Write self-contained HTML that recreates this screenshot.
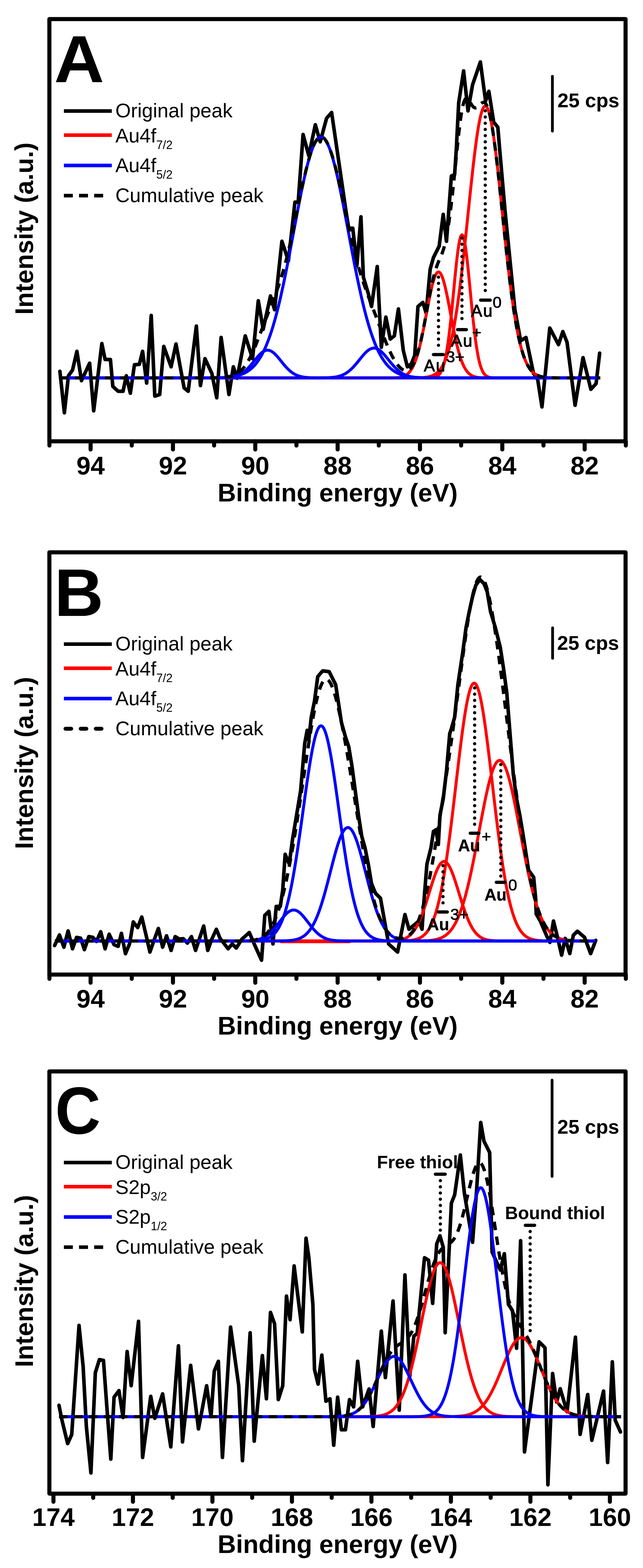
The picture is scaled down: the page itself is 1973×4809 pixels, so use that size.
<!DOCTYPE html>
<html><head><meta charset="utf-8"><style>
html,body{margin:0;padding:0;background:#fff;overflow:hidden;}
svg{display:block;}
</style></head><body>
<svg width="1973" height="4809" viewBox="0 0 1973 4809" font-family='"Liberation Sans", Arial, sans-serif'>
<rect width="100%" height="100%" fill="#fff"/>
<rect x="151.5" y="58.5" width="1768" height="1295" fill="none" stroke="#000" stroke-width="12.5" stroke-linejoin="round"/>
<line x1="278" y1="1353.5" x2="278" y2="1378.5" stroke="#000" stroke-width="12.5" stroke-linecap="round"/>
<line x1="530.7" y1="1353.5" x2="530.7" y2="1378.5" stroke="#000" stroke-width="12.5" stroke-linecap="round"/>
<line x1="783.3" y1="1353.5" x2="783.3" y2="1378.5" stroke="#000" stroke-width="12.5" stroke-linecap="round"/>
<line x1="1036" y1="1353.5" x2="1036" y2="1378.5" stroke="#000" stroke-width="12.5" stroke-linecap="round"/>
<line x1="1288.6" y1="1353.5" x2="1288.6" y2="1378.5" stroke="#000" stroke-width="12.5" stroke-linecap="round"/>
<line x1="1541.3" y1="1353.5" x2="1541.3" y2="1378.5" stroke="#000" stroke-width="12.5" stroke-linecap="round"/>
<line x1="1794" y1="1353.5" x2="1794" y2="1378.5" stroke="#000" stroke-width="12.5" stroke-linecap="round"/>
<line x1="151.7" y1="1353.5" x2="151.7" y2="1366.5" stroke="#000" stroke-width="12.5" stroke-linecap="round"/>
<line x1="404.3" y1="1353.5" x2="404.3" y2="1366.5" stroke="#000" stroke-width="12.5" stroke-linecap="round"/>
<line x1="657" y1="1353.5" x2="657" y2="1366.5" stroke="#000" stroke-width="12.5" stroke-linecap="round"/>
<line x1="909.6" y1="1353.5" x2="909.6" y2="1366.5" stroke="#000" stroke-width="12.5" stroke-linecap="round"/>
<line x1="1162.3" y1="1353.5" x2="1162.3" y2="1366.5" stroke="#000" stroke-width="12.5" stroke-linecap="round"/>
<line x1="1415" y1="1353.5" x2="1415" y2="1366.5" stroke="#000" stroke-width="12.5" stroke-linecap="round"/>
<line x1="1667.6" y1="1353.5" x2="1667.6" y2="1366.5" stroke="#000" stroke-width="12.5" stroke-linecap="round"/>
<line x1="1920.3" y1="1353.5" x2="1920.3" y2="1366.5" stroke="#000" stroke-width="12.5" stroke-linecap="round"/>
<text x="278" y="1455" text-anchor="middle" font-size="78" font-weight="bold">94</text>
<text x="530.7" y="1455" text-anchor="middle" font-size="78" font-weight="bold">92</text>
<text x="783.3" y="1455" text-anchor="middle" font-size="78" font-weight="bold">90</text>
<text x="1036" y="1455" text-anchor="middle" font-size="78" font-weight="bold">88</text>
<text x="1288.6" y="1455" text-anchor="middle" font-size="78" font-weight="bold">86</text>
<text x="1541.3" y="1455" text-anchor="middle" font-size="78" font-weight="bold">84</text>
<text x="1794" y="1455" text-anchor="middle" font-size="78" font-weight="bold">82</text>
<text x="1036" y="1538" text-anchor="middle" font-size="78" font-weight="bold">Binding energy (eV)</text>
<text transform="translate(101,701) rotate(-90)" text-anchor="middle" font-size="78" font-weight="bold">Intensity (a.u.)</text>
<text transform="translate(166,252) scale(1.045,1)" font-size="204" font-weight="bold">A</text>
<polyline points="183.8,1138.8 197.5,1266 210,1152.5 222.5,1135 236,1077.5 250,1167.5 275,1113.8 287.5,1260 312.5,1053.8 322.5,1102.5 338.8,1102.5 346.2,1185 362.5,1200 377.5,1200 387.5,1152.5 400,1206 412.5,1118.8 427.5,1117.5 437.5,1077.5 450,1175 464,967.5 475,1215 490,1210 502.5,1062.5 525,1125 540,1055 565,1190 577.5,1200 602.5,1000 615,1182.5 629,1100 650,1145 665,1220 678.5,1035 702.5,1210 716,1125 727.5,1160 752.5,1030 775,1100 792.5,922.5 807.5,1010 830,907.5 842.5,950 865,740 885,800 905,620 915,620 930,412.5 947.5,477.5 967.5,382.5 982.5,435 1002,363 1017.5,345 1062,650 1070,700 1082.5,700 1095,815 1107.5,665 1115,850 1130,900 1140,940 1157.5,817.5 1170,1065 1184,972.5 1197.5,1040 1210,1030 1222.5,947.5 1237.5,1075 1250,1125 1262.5,1115 1272.5,1090 1282.5,940 1297.5,927.5 1307.5,960 1320,825 1330,790 1347.5,755 1360,657.5 1370,740 1385,540 1395,535 1400,460 1407.5,315 1422.5,217.5 1436,340 1450,260 1474,190 1490,310 1500,280 1515,375 1527.5,390 1532.5,450 1550,650 1565,800 1580,950 1597.5,1045 1614,1035 1637,1145 1650,1165 1663,1248 1687,1006 1713.7,1057 1727,1017 1740,1050 1764.6,1243 1789,1097 1813,1194 1829,1176.6 1840,1083" fill="none" stroke="#000" stroke-width="11" stroke-linejoin="round" stroke-linecap="round"/>

<polyline points="184,1159 187,1159 190,1159 193,1159 196,1159 199,1159 202,1159 205,1159 208,1159 211,1159 214,1159 217,1159 220,1159 223,1159 226,1159 229,1159 232,1159 235,1159 238,1159 241,1159 244,1159 247,1159 250,1159 253,1159 256,1159 259,1159 262,1159 265,1159 268,1159 271,1159 274,1159 277,1159 280,1159 283,1159 286,1159 289,1159 292,1159 295,1159 298,1159 301,1159 304,1159 307,1159 310,1159 313,1159 316,1159 319,1159 322,1159 325,1159 328,1159 331,1159 334,1159 337,1159 340,1159 343,1159 346,1159 349,1159 352,1159 355,1159 358,1159 361,1159 364,1159 367,1159 370,1159 373,1159 376,1159 379,1159 382,1159 385,1159 388,1159 391,1159 394,1159 397,1159 400,1159 403,1159 406,1159 409,1159 412,1159 415,1159 418,1159 421,1159 424,1159 427,1159 430,1159 433,1159 436,1159 439,1159 442,1159 445,1159 448,1159 451,1159 454,1159 457,1159 460,1159 463,1159 466,1159 469,1159 472,1159 475,1159 478,1159 481,1159 484,1159 487,1159 490,1159 493,1159 496,1159 499,1159 502,1159 505,1159 508,1159 511,1159 514,1159 517,1159 520,1159 523,1159 526,1159 529,1159 532,1159 535,1159 538,1159 541,1159 544,1159 547,1159 550,1159 553,1159 556,1159 559,1159 562,1159 565,1159 568,1159 571,1159 574,1159 577,1159 580,1159 583,1159 586,1159 589,1159 592,1159 595,1159 598,1159 601,1159 604,1159 607,1159 610,1159 613,1159 616,1159 619,1159 622,1159 625,1159 628,1159 631,1159 634,1159 637,1159 640,1159 643,1159 646,1159 649,1159 652,1159 655,1159 658,1159 661,1159 664,1159 667,1159 670,1159 673,1159 676,1159 679,1159 682,1159 685,1159 688,1159 691,1159 694,1159 697,1159 700,1159 703,1159 706,1159 709,1159 712,1159 715,1159 718,1159 721,1159 724,1159 727,1159 730,1159 733,1159 736,1159 739,1159 742,1159 745,1159 748,1159 751,1159 754,1159 757,1159 760,1159 763,1159 766,1159 769,1159 772,1159 775,1159 778,1159 781,1159 784,1159 787,1159 790,1159 793,1159 796,1159 799,1159 802,1159 805,1159 808,1159 811,1159 814,1159 817,1159 820,1159 823,1159 826,1159 829,1159 832,1159 835,1159 838,1159 841,1159 844,1159 847,1159 850,1159 853,1159 856,1159 859,1159 862,1159 865,1159 868,1159 871,1159 874,1159 877,1159 880,1159 883,1159 886,1159 889,1159 892,1159 895,1159 898,1159 901,1159 904,1159 907,1159 910,1159 913,1159 916,1159 919,1159 922,1159 925,1159 928,1159 931,1159 934,1159 937,1159 940,1159 943,1159 946,1159 949,1159 952,1159 955,1159 958,1159 961,1159 964,1159 967,1159 970,1159 973,1159 976,1159 979,1159 982,1159 985,1159 988,1159 991,1159 994,1159 997,1159 1000,1159 1003,1159 1006,1159 1009,1159 1012,1159 1015,1159 1018,1159 1021,1159 1024,1159 1027,1159 1030,1159 1033,1159 1036,1159 1039,1159 1042,1159 1045,1159 1048,1159 1051,1159 1054,1159 1057,1159 1060,1159 1063,1159 1066,1159 1069,1159 1072,1159 1075,1159 1078,1159 1081,1159 1084,1159 1087,1159 1090,1159 1093,1159 1096,1159 1099,1159 1102,1159 1105,1159 1108,1159 1111,1159 1114,1159 1117,1159 1120,1159 1123,1159 1126,1159 1129,1159 1132,1159 1135,1159 1138,1159 1141,1159 1144,1159 1147,1159 1150,1159 1153,1159 1156,1159 1159,1159 1162,1159 1165,1159 1168,1159 1171,1159 1174,1159 1177,1159 1180,1159 1183,1159 1186,1159 1189,1159 1192,1159 1195,1159 1198,1159 1201,1159 1204,1159 1207,1159 1210,1159 1213,1159 1216,1159 1219,1159 1222,1159 1225,1159 1228,1159 1231,1159 1234,1159 1237,1159 1240,1159 1243,1159 1246,1159 1249,1159 1252,1159 1255,1159 1258,1158.9 1261,1158.9 1264,1158.9 1267,1158.9 1270,1158.9 1273,1158.8 1276,1158.8 1279,1158.7 1282,1158.6 1285,1158.6 1288,1158.5 1291,1158.3 1294,1158.2 1297,1158 1300,1157.7 1303,1157.4 1306,1157.1 1309,1156.7 1312,1156.2 1315,1155.6 1318,1154.9 1321,1154 1324,1153 1327,1151.9 1330,1150.5 1333,1148.9 1336,1147.1 1339,1144.9 1342,1142.5 1345,1139.6 1348,1136.4 1351,1132.6 1354,1128.4 1357,1123.6 1360,1118.2 1363,1112.2 1366,1105.4 1369,1097.8 1372,1089.4 1375,1080.1 1378,1069.8 1381,1058.5 1384,1046.1 1387,1032.7 1390,1018.1 1393,1002.3 1396,985.3 1399,967.1 1402,947.7 1405,927.1 1408,905.3 1411,882.4 1414,858.4 1417,833.3 1420,807.4 1423,780.6 1426,753 1429,724.9 1432,696.4 1435,667.6 1438,638.7 1441,609.9 1444,581.4 1447,553.4 1450,526.1 1453,499.7 1456,474.5 1459,450.6 1462,428.3 1465,407.7 1468,389.1 1471,372.6 1474,358.4 1477,346.5 1480,337.2 1483,330.4 1486,326.4 1489,325 1492,326.4 1495,330.4 1498,337.2 1501,346.5 1504,358.4 1507,372.6 1510,389.1 1513,407.7 1516,428.3 1519,450.6 1522,474.5 1525,499.7 1528,526.1 1531,553.4 1534,581.4 1537,609.9 1540,638.7 1543,667.6 1546,696.4 1549,724.9 1552,753 1555,780.6 1558,807.4 1561,833.3 1564,858.4 1567,882.4 1570,905.3 1573,927.1 1576,947.7 1579,967.1 1582,985.3 1585,1002.3 1588,1018.1 1591,1032.7 1594,1046.1 1597,1058.5 1600,1069.8 1603,1080.1 1606,1089.4 1609,1097.8 1612,1105.4 1615,1112.2 1618,1118.2 1621,1123.6 1624,1128.4 1627,1132.6 1630,1136.4 1633,1139.6 1636,1142.5 1639,1144.9 1642,1147.1 1645,1148.9 1648,1150.5 1651,1151.9 1654,1153 1657,1154 1660,1154.9 1663,1155.6 1666,1156.2 1669,1156.7 1672,1157.1 1675,1157.4 1678,1157.7 1681,1158 1684,1158.2 1687,1158.3 1690,1158.5 1693,1158.6 1696,1158.6 1699,1158.7 1702,1158.8 1705,1158.8 1708,1158.9 1711,1158.9 1714,1158.9 1717,1158.9 1720,1158.9 1723,1159 1726,1159 1729,1159 1732,1159 1735,1159 1738,1159 1741,1159 1744,1159 1747,1159 1750,1159 1753,1159 1756,1159 1759,1159 1762,1159 1765,1159 1768,1159 1771,1159 1774,1159 1777,1159 1780,1159 1783,1159 1786,1159 1789,1159 1792,1159 1795,1159 1798,1159 1801,1159 1804,1159 1807,1159 1810,1159 1813,1159 1816,1159 1819,1159 1822,1159 1825,1159 1828,1159 1831,1159 1834,1159 1837,1159 1840,1159" fill="none" stroke="#f00" stroke-width="9" stroke-linejoin="round"/>
<polyline points="184,1159 187,1159 190,1159 193,1159 196,1159 199,1159 202,1159 205,1159 208,1159 211,1159 214,1159 217,1159 220,1159 223,1159 226,1159 229,1159 232,1159 235,1159 238,1159 241,1159 244,1159 247,1159 250,1159 253,1159 256,1159 259,1159 262,1159 265,1159 268,1159 271,1159 274,1159 277,1159 280,1159 283,1159 286,1159 289,1159 292,1159 295,1159 298,1159 301,1159 304,1159 307,1159 310,1159 313,1159 316,1159 319,1159 322,1159 325,1159 328,1159 331,1159 334,1159 337,1159 340,1159 343,1159 346,1159 349,1159 352,1159 355,1159 358,1159 361,1159 364,1159 367,1159 370,1159 373,1159 376,1159 379,1159 382,1159 385,1159 388,1159 391,1159 394,1159 397,1159 400,1159 403,1159 406,1159 409,1159 412,1159 415,1159 418,1159 421,1159 424,1159 427,1159 430,1159 433,1159 436,1159 439,1159 442,1159 445,1159 448,1159 451,1159 454,1159 457,1159 460,1159 463,1159 466,1159 469,1159 472,1159 475,1159 478,1159 481,1159 484,1159 487,1159 490,1159 493,1159 496,1159 499,1159 502,1159 505,1159 508,1159 511,1159 514,1159 517,1159 520,1159 523,1159 526,1159 529,1159 532,1159 535,1159 538,1159 541,1159 544,1159 547,1159 550,1159 553,1159 556,1159 559,1159 562,1159 565,1159 568,1159 571,1159 574,1159 577,1159 580,1159 583,1159 586,1159 589,1159 592,1159 595,1159 598,1159 601,1159 604,1159 607,1159 610,1159 613,1159 616,1159 619,1159 622,1159 625,1159 628,1159 631,1159 634,1159 637,1159 640,1159 643,1159 646,1159 649,1159 652,1159 655,1159 658,1159 661,1159 664,1159 667,1159 670,1159 673,1159 676,1159 679,1159 682,1159 685,1159 688,1159 691,1159 694,1159 697,1159 700,1159 703,1159 706,1159 709,1159 712,1159 715,1159 718,1159 721,1159 724,1159 727,1159 730,1159 733,1159 736,1159 739,1159 742,1159 745,1159 748,1159 751,1159 754,1159 757,1159 760,1159 763,1159 766,1159 769,1159 772,1159 775,1159 778,1159 781,1159 784,1159 787,1159 790,1159 793,1159 796,1159 799,1159 802,1159 805,1159 808,1159 811,1159 814,1159 817,1159 820,1159 823,1159 826,1159 829,1159 832,1159 835,1159 838,1159 841,1159 844,1159 847,1159 850,1159 853,1159 856,1159 859,1159 862,1159 865,1159 868,1159 871,1159 874,1159 877,1159 880,1159 883,1159 886,1159 889,1159 892,1159 895,1159 898,1159 901,1159 904,1159 907,1159 910,1159 913,1159 916,1159 919,1159 922,1159 925,1159 928,1159 931,1159 934,1159 937,1159 940,1159 943,1159 946,1159 949,1159 952,1159 955,1159 958,1159 961,1159 964,1159 967,1159 970,1159 973,1159 976,1159 979,1159 982,1159 985,1159 988,1159 991,1159 994,1159 997,1159 1000,1159 1003,1159 1006,1159 1009,1159 1012,1159 1015,1159 1018,1159 1021,1159 1024,1159 1027,1159 1030,1159 1033,1159 1036,1159 1039,1159 1042,1159 1045,1159 1048,1159 1051,1159 1054,1159 1057,1159 1060,1159 1063,1159 1066,1159 1069,1159 1072,1159 1075,1159 1078,1159 1081,1159 1084,1159 1087,1159 1090,1159 1093,1159 1096,1159 1099,1159 1102,1159 1105,1159 1108,1159 1111,1159 1114,1159 1117,1159 1120,1159 1123,1159 1126,1159 1129,1159 1132,1159 1135,1159 1138,1159 1141,1159 1144,1159 1147,1159 1150,1159 1153,1159 1156,1159 1159,1159 1162,1159 1165,1159 1168,1159 1171,1159 1174,1159 1177,1159 1180,1159 1183,1159 1186,1159 1189,1159 1192,1159 1195,1159 1198,1159 1201,1159 1204,1159 1207,1159 1210,1159 1213,1159 1216,1159 1219,1159 1222,1159 1225,1159 1228,1159 1231,1159 1234,1159 1237,1159 1240,1159 1243,1159 1246,1159 1249,1159 1252,1159 1255,1159 1258,1159 1261,1159 1264,1159 1267,1159 1270,1159 1273,1159 1276,1159 1279,1159 1282,1159 1285,1159 1288,1159 1291,1159 1294,1159 1297,1159 1300,1159 1303,1159 1306,1159 1309,1158.9 1312,1158.9 1315,1158.9 1318,1158.8 1321,1158.7 1324,1158.5 1327,1158.2 1330,1157.8 1333,1157.2 1336,1156.3 1339,1155.2 1342,1153.5 1345,1151.3 1348,1148.3 1351,1144.4 1354,1139.2 1357,1132.7 1360,1124.5 1363,1114.3 1366,1101.9 1369,1087.1 1372,1069.6 1375,1049.5 1378,1026.7 1381,1001.4 1384,973.8 1387,944.3 1390,913.6 1393,882.3 1396,851.3 1399,821.6 1402,794 1405,769.7 1408,749.4 1411,734 1414,724.1 1417,720.1 1420,722.1 1423,730.1 1426,743.7 1429,762.4 1432,785.5 1435,812.1 1438,841.2 1441,871.9 1444,903.2 1447,934.2 1450,964.1 1453,992.4 1456,1018.6 1459,1042.2 1462,1063.2 1465,1081.6 1468,1097.2 1471,1110.4 1474,1121.3 1477,1130.1 1480,1137.2 1483,1142.8 1486,1147.1 1489,1150.4 1492,1152.8 1495,1154.7 1498,1156 1501,1156.9 1504,1157.6 1507,1158.1 1510,1158.4 1513,1158.6 1516,1158.7 1519,1158.8 1522,1158.9 1525,1158.9 1528,1159 1531,1159 1534,1159 1537,1159 1540,1159 1543,1159 1546,1159 1549,1159 1552,1159 1555,1159 1558,1159 1561,1159 1564,1159 1567,1159 1570,1159 1573,1159 1576,1159 1579,1159 1582,1159 1585,1159 1588,1159 1591,1159 1594,1159 1597,1159 1600,1159 1603,1159 1606,1159 1609,1159 1612,1159 1615,1159 1618,1159 1621,1159 1624,1159 1627,1159 1630,1159 1633,1159 1636,1159 1639,1159 1642,1159 1645,1159 1648,1159 1651,1159 1654,1159 1657,1159 1660,1159 1663,1159 1666,1159 1669,1159 1672,1159 1675,1159 1678,1159 1681,1159 1684,1159 1687,1159 1690,1159 1693,1159 1696,1159 1699,1159 1702,1159 1705,1159 1708,1159 1711,1159 1714,1159 1717,1159 1720,1159 1723,1159 1726,1159 1729,1159 1732,1159 1735,1159 1738,1159 1741,1159 1744,1159 1747,1159 1750,1159 1753,1159 1756,1159 1759,1159 1762,1159 1765,1159 1768,1159 1771,1159 1774,1159 1777,1159 1780,1159 1783,1159 1786,1159 1789,1159 1792,1159 1795,1159 1798,1159 1801,1159 1804,1159 1807,1159 1810,1159 1813,1159 1816,1159 1819,1159 1822,1159 1825,1159 1828,1159 1831,1159 1834,1159 1837,1159 1840,1159" fill="none" stroke="#f00" stroke-width="9" stroke-linejoin="round"/>
<polyline points="184,1159 187,1159 190,1159 193,1159 196,1159 199,1159 202,1159 205,1159 208,1159 211,1159 214,1159 217,1159 220,1159 223,1159 226,1159 229,1159 232,1159 235,1159 238,1159 241,1159 244,1159 247,1159 250,1159 253,1159 256,1159 259,1159 262,1159 265,1159 268,1159 271,1159 274,1159 277,1159 280,1159 283,1159 286,1159 289,1159 292,1159 295,1159 298,1159 301,1159 304,1159 307,1159 310,1159 313,1159 316,1159 319,1159 322,1159 325,1159 328,1159 331,1159 334,1159 337,1159 340,1159 343,1159 346,1159 349,1159 352,1159 355,1159 358,1159 361,1159 364,1159 367,1159 370,1159 373,1159 376,1159 379,1159 382,1159 385,1159 388,1159 391,1159 394,1159 397,1159 400,1159 403,1159 406,1159 409,1159 412,1159 415,1159 418,1159 421,1159 424,1159 427,1159 430,1159 433,1159 436,1159 439,1159 442,1159 445,1159 448,1159 451,1159 454,1159 457,1159 460,1159 463,1159 466,1159 469,1159 472,1159 475,1159 478,1159 481,1159 484,1159 487,1159 490,1159 493,1159 496,1159 499,1159 502,1159 505,1159 508,1159 511,1159 514,1159 517,1159 520,1159 523,1159 526,1159 529,1159 532,1159 535,1159 538,1159 541,1159 544,1159 547,1159 550,1159 553,1159 556,1159 559,1159 562,1159 565,1159 568,1159 571,1159 574,1159 577,1159 580,1159 583,1159 586,1159 589,1159 592,1159 595,1159 598,1159 601,1159 604,1159 607,1159 610,1159 613,1159 616,1159 619,1159 622,1159 625,1159 628,1159 631,1159 634,1159 637,1159 640,1159 643,1159 646,1159 649,1159 652,1159 655,1159 658,1159 661,1159 664,1159 667,1159 670,1159 673,1159 676,1159 679,1159 682,1159 685,1159 688,1159 691,1159 694,1159 697,1159 700,1159 703,1159 706,1159 709,1159 712,1159 715,1159 718,1159 721,1159 724,1159 727,1159 730,1159 733,1159 736,1159 739,1159 742,1159 745,1159 748,1159 751,1159 754,1159 757,1159 760,1159 763,1159 766,1159 769,1159 772,1159 775,1159 778,1159 781,1159 784,1159 787,1159 790,1159 793,1159 796,1159 799,1159 802,1159 805,1159 808,1159 811,1159 814,1159 817,1159 820,1159 823,1159 826,1159 829,1159 832,1159 835,1159 838,1159 841,1159 844,1159 847,1159 850,1159 853,1159 856,1159 859,1159 862,1159 865,1159 868,1159 871,1159 874,1159 877,1159 880,1159 883,1159 886,1159 889,1159 892,1159 895,1159 898,1159 901,1159 904,1159 907,1159 910,1159 913,1159 916,1159 919,1159 922,1159 925,1159 928,1159 931,1159 934,1159 937,1159 940,1159 943,1159 946,1159 949,1159 952,1159 955,1159 958,1159 961,1159 964,1159 967,1159 970,1159 973,1159 976,1159 979,1159 982,1159 985,1159 988,1159 991,1159 994,1159 997,1159 1000,1159 1003,1159 1006,1159 1009,1159 1012,1159 1015,1159 1018,1159 1021,1159 1024,1159 1027,1159 1030,1159 1033,1159 1036,1159 1039,1159 1042,1159 1045,1159 1048,1159 1051,1159 1054,1159 1057,1159 1060,1159 1063,1159 1066,1159 1069,1159 1072,1159 1075,1159 1078,1159 1081,1159 1084,1159 1087,1159 1090,1159 1093,1159 1096,1159 1099,1159 1102,1159 1105,1159 1108,1159 1111,1159 1114,1159 1117,1159 1120,1159 1123,1159 1126,1159 1129,1159 1132,1159 1135,1159 1138,1159 1141,1159 1144,1159 1147,1159 1150,1159 1153,1159 1156,1159 1159,1159 1162,1159 1165,1159 1168,1159 1171,1159 1174,1159 1177,1159 1180,1159 1183,1159 1186,1159 1189,1159 1192,1158.9 1195,1158.9 1198,1158.9 1201,1158.8 1204,1158.8 1207,1158.7 1210,1158.6 1213,1158.5 1216,1158.3 1219,1158.1 1222,1157.8 1225,1157.4 1228,1156.9 1231,1156.3 1234,1155.5 1237,1154.6 1240,1153.4 1243,1152 1246,1150.3 1249,1148.2 1252,1145.7 1255,1142.7 1258,1139.2 1261,1135 1264,1130.3 1267,1124.8 1270,1118.5 1273,1111.3 1276,1103.3 1279,1094.4 1282,1084.5 1285,1073.6 1288,1061.8 1291,1049.2 1294,1035.6 1297,1021.4 1300,1006.4 1303,991 1306,975.2 1309,959.2 1312,943.3 1315,927.6 1318,912.4 1321,898 1324,884.5 1327,872.2 1330,861.3 1333,852 1336,844.5 1339,839 1342,835.5 1345,834 1348,834.7 1351,837.6 1354,842.5 1357,849.3 1360,858 1363,868.4 1366,880.2 1369,893.4 1372,907.5 1375,922.5 1378,938 1381,953.9 1384,969.9 1387,985.7 1390,1001.3 1393,1016.4 1396,1031 1399,1044.7 1402,1057.7 1405,1069.8 1408,1081 1411,1091.2 1414,1100.4 1417,1108.8 1420,1116.2 1423,1122.8 1426,1128.5 1429,1133.5 1432,1137.9 1435,1141.6 1438,1144.7 1441,1147.4 1444,1149.6 1447,1151.5 1450,1153 1453,1154.2 1456,1155.2 1459,1156.1 1462,1156.7 1465,1157.2 1468,1157.6 1471,1158 1474,1158.2 1477,1158.4 1480,1158.6 1483,1158.7 1486,1158.8 1489,1158.8 1492,1158.9 1495,1158.9 1498,1158.9 1501,1159 1504,1159 1507,1159 1510,1159 1513,1159 1516,1159 1519,1159 1522,1159 1525,1159 1528,1159 1531,1159 1534,1159 1537,1159 1540,1159 1543,1159 1546,1159 1549,1159 1552,1159 1555,1159 1558,1159 1561,1159 1564,1159 1567,1159 1570,1159 1573,1159 1576,1159 1579,1159 1582,1159 1585,1159 1588,1159 1591,1159 1594,1159 1597,1159 1600,1159 1603,1159 1606,1159 1609,1159 1612,1159 1615,1159 1618,1159 1621,1159 1624,1159 1627,1159 1630,1159 1633,1159 1636,1159 1639,1159 1642,1159 1645,1159 1648,1159 1651,1159 1654,1159 1657,1159 1660,1159 1663,1159 1666,1159 1669,1159 1672,1159 1675,1159 1678,1159 1681,1159 1684,1159 1687,1159 1690,1159 1693,1159 1696,1159 1699,1159 1702,1159 1705,1159 1708,1159 1711,1159 1714,1159 1717,1159 1720,1159 1723,1159 1726,1159 1729,1159 1732,1159 1735,1159 1738,1159 1741,1159 1744,1159 1747,1159 1750,1159 1753,1159 1756,1159 1759,1159 1762,1159 1765,1159 1768,1159 1771,1159 1774,1159 1777,1159 1780,1159 1783,1159 1786,1159 1789,1159 1792,1159 1795,1159 1798,1159 1801,1159 1804,1159 1807,1159 1810,1159 1813,1159 1816,1159 1819,1159 1822,1159 1825,1159 1828,1159 1831,1159 1834,1159 1837,1159 1840,1159" fill="none" stroke="#f00" stroke-width="9" stroke-linejoin="round"/>
<polyline points="184,1159 187,1159 190,1159 193,1159 196,1159 199,1159 202,1159 205,1159 208,1159 211,1159 214,1159 217,1159 220,1159 223,1159 226,1159 229,1159 232,1159 235,1159 238,1159 241,1159 244,1159 247,1159 250,1159 253,1159 256,1159 259,1159 262,1159 265,1159 268,1159 271,1159 274,1159 277,1159 280,1159 283,1159 286,1159 289,1159 292,1159 295,1159 298,1159 301,1159 304,1159 307,1159 310,1159 313,1159 316,1159 319,1159 322,1159 325,1159 328,1159 331,1159 334,1159 337,1159 340,1159 343,1159 346,1159 349,1159 352,1159 355,1159 358,1159 361,1159 364,1159 367,1159 370,1159 373,1159 376,1159 379,1159 382,1159 385,1159 388,1159 391,1159 394,1159 397,1159 400,1159 403,1159 406,1159 409,1159 412,1159 415,1159 418,1159 421,1159 424,1159 427,1159 430,1159 433,1159 436,1159 439,1159 442,1159 445,1159 448,1159 451,1159 454,1159 457,1159 460,1159 463,1159 466,1159 469,1159 472,1159 475,1159 478,1159 481,1159 484,1159 487,1159 490,1159 493,1159 496,1159 499,1159 502,1159 505,1159 508,1159 511,1159 514,1159 517,1159 520,1159 523,1159 526,1159 529,1159 532,1159 535,1159 538,1159 541,1159 544,1159 547,1159 550,1159 553,1159 556,1159 559,1159 562,1159 565,1159 568,1159 571,1159 574,1159 577,1159 580,1159 583,1159 586,1159 589,1159 592,1159 595,1159 598,1159 601,1159 604,1159 607,1159 610,1159 613,1159 616,1159 619,1158.9 622,1158.9 625,1158.9 628,1158.9 631,1158.9 634,1158.9 637,1158.9 640,1158.8 643,1158.8 646,1158.8 649,1158.8 652,1158.7 655,1158.7 658,1158.6 661,1158.6 664,1158.5 667,1158.4 670,1158.4 673,1158.3 676,1158.2 679,1158 682,1157.9 685,1157.8 688,1157.6 691,1157.4 694,1157.2 697,1157 700,1156.7 703,1156.4 706,1156.1 709,1155.7 712,1155.3 715,1154.8 718,1154.3 721,1153.8 724,1153.1 727,1152.5 730,1151.7 733,1150.9 736,1150 739,1149 742,1147.9 745,1146.6 748,1145.3 751,1143.9 754,1142.3 757,1140.6 760,1138.7 763,1136.7 766,1134.5 769,1132.1 772,1129.5 775,1126.8 778,1123.8 781,1120.6 784,1117.1 787,1113.4 790,1109.4 793,1105.1 796,1100.6 799,1095.7 802,1090.5 805,1085 808,1079.2 811,1073 814,1066.4 817,1059.5 820,1052.1 823,1044.4 826,1036.3 829,1027.8 832,1018.9 835,1009.5 838,999.8 841,989.6 844,979 847,967.9 850,956.5 853,944.6 856,932.4 859,919.7 862,906.7 865,893.3 868,879.5 871,865.4 874,851 877,836.3 880,821.3 883,806.1 886,790.6 889,775 892,759.2 895,743.3 898,727.3 901,711.3 904,695.3 907,679.3 910,663.4 913,647.6 916,632 919,616.7 922,601.5 925,586.7 928,572.3 931,558.3 934,544.7 937,531.6 940,519 943,507 946,495.7 949,485 952,475 955,465.8 958,457.3 961,449.6 964,442.8 967,436.8 970,431.7 973,427.5 976,424.2 979,421.9 982,420.5 985,420 988,420.5 991,421.9 994,424.2 997,427.5 1000,431.7 1003,436.8 1006,442.8 1009,449.6 1012,457.3 1015,465.8 1018,475 1021,485 1024,495.7 1027,507 1030,519 1033,531.6 1036,544.7 1039,558.3 1042,572.3 1045,586.7 1048,601.5 1051,616.7 1054,632 1057,647.6 1060,663.4 1063,679.3 1066,695.3 1069,711.3 1072,727.3 1075,743.3 1078,759.2 1081,775 1084,790.6 1087,806.1 1090,821.3 1093,836.3 1096,851 1099,865.4 1102,879.5 1105,893.3 1108,906.7 1111,919.7 1114,932.4 1117,944.6 1120,956.5 1123,967.9 1126,979 1129,989.6 1132,999.8 1135,1009.5 1138,1018.9 1141,1027.8 1144,1036.3 1147,1044.4 1150,1052.1 1153,1059.5 1156,1066.4 1159,1073 1162,1079.2 1165,1085 1168,1090.5 1171,1095.7 1174,1100.6 1177,1105.1 1180,1109.4 1183,1113.4 1186,1117.1 1189,1120.6 1192,1123.8 1195,1126.8 1198,1129.5 1201,1132.1 1204,1134.5 1207,1136.7 1210,1138.7 1213,1140.6 1216,1142.3 1219,1143.9 1222,1145.3 1225,1146.6 1228,1147.9 1231,1149 1234,1150 1237,1150.9 1240,1151.7 1243,1152.5 1246,1153.1 1249,1153.8 1252,1154.3 1255,1154.8 1258,1155.3 1261,1155.7 1264,1156.1 1267,1156.4 1270,1156.7 1273,1157 1276,1157.2 1279,1157.4 1282,1157.6 1285,1157.8 1288,1157.9 1291,1158 1294,1158.2 1297,1158.3 1300,1158.4 1303,1158.4 1306,1158.5 1309,1158.6 1312,1158.6 1315,1158.7 1318,1158.7 1321,1158.8 1324,1158.8 1327,1158.8 1330,1158.8 1333,1158.9 1336,1158.9 1339,1158.9 1342,1158.9 1345,1158.9 1348,1158.9 1351,1158.9 1354,1159 1357,1159 1360,1159 1363,1159 1366,1159 1369,1159 1372,1159 1375,1159 1378,1159 1381,1159 1384,1159 1387,1159 1390,1159 1393,1159 1396,1159 1399,1159 1402,1159 1405,1159 1408,1159 1411,1159 1414,1159 1417,1159 1420,1159 1423,1159 1426,1159 1429,1159 1432,1159 1435,1159 1438,1159 1441,1159 1444,1159 1447,1159 1450,1159 1453,1159 1456,1159 1459,1159 1462,1159 1465,1159 1468,1159 1471,1159 1474,1159 1477,1159 1480,1159 1483,1159 1486,1159 1489,1159 1492,1159 1495,1159 1498,1159 1501,1159 1504,1159 1507,1159 1510,1159 1513,1159 1516,1159 1519,1159 1522,1159 1525,1159 1528,1159 1531,1159 1534,1159 1537,1159 1540,1159 1543,1159 1546,1159 1549,1159 1552,1159 1555,1159 1558,1159 1561,1159 1564,1159 1567,1159 1570,1159 1573,1159 1576,1159 1579,1159 1582,1159 1585,1159 1588,1159 1591,1159 1594,1159 1597,1159 1600,1159 1603,1159 1606,1159 1609,1159 1612,1159 1615,1159 1618,1159 1621,1159 1624,1159 1627,1159 1630,1159 1633,1159 1636,1159 1639,1159 1642,1159 1645,1159 1648,1159 1651,1159 1654,1159 1657,1159 1660,1159 1663,1159 1666,1159 1669,1159 1672,1159 1675,1159 1678,1159 1681,1159 1684,1159 1687,1159 1690,1159 1693,1159 1696,1159 1699,1159 1702,1159 1705,1159 1708,1159 1711,1159 1714,1159 1717,1159 1720,1159 1723,1159 1726,1159 1729,1159 1732,1159 1735,1159 1738,1159 1741,1159 1744,1159 1747,1159 1750,1159 1753,1159 1756,1159 1759,1159 1762,1159 1765,1159 1768,1159 1771,1159 1774,1159 1777,1159 1780,1159 1783,1159 1786,1159 1789,1159 1792,1159 1795,1159 1798,1159 1801,1159 1804,1159 1807,1159 1810,1159 1813,1159 1816,1159 1819,1159 1822,1159 1825,1159 1828,1159 1831,1159 1834,1159 1837,1159 1840,1159" fill="none" stroke="#00f" stroke-width="9" stroke-linejoin="round"/>
<polyline points="184,1159 187,1159 190,1159 193,1159 196,1159 199,1159 202,1159 205,1159 208,1159 211,1159 214,1159 217,1159 220,1159 223,1159 226,1159 229,1159 232,1159 235,1159 238,1159 241,1159 244,1159 247,1159 250,1159 253,1159 256,1159 259,1159 262,1159 265,1159 268,1159 271,1159 274,1159 277,1159 280,1159 283,1159 286,1159 289,1159 292,1159 295,1159 298,1159 301,1159 304,1159 307,1159 310,1159 313,1159 316,1159 319,1159 322,1159 325,1159 328,1159 331,1159 334,1159 337,1159 340,1159 343,1159 346,1159 349,1159 352,1159 355,1159 358,1159 361,1159 364,1159 367,1159 370,1159 373,1159 376,1159 379,1159 382,1159 385,1159 388,1159 391,1159 394,1159 397,1159 400,1159 403,1159 406,1159 409,1159 412,1159 415,1159 418,1159 421,1159 424,1159 427,1159 430,1159 433,1159 436,1159 439,1159 442,1159 445,1159 448,1159 451,1159 454,1159 457,1159 460,1159 463,1159 466,1159 469,1159 472,1159 475,1159 478,1159 481,1159 484,1159 487,1159 490,1159 493,1159 496,1159 499,1159 502,1159 505,1159 508,1159 511,1159 514,1159 517,1159 520,1159 523,1159 526,1159 529,1159 532,1159 535,1159 538,1159 541,1159 544,1159 547,1159 550,1159 553,1159 556,1159 559,1159 562,1159 565,1159 568,1159 571,1159 574,1159 577,1159 580,1159 583,1159 586,1159 589,1159 592,1159 595,1159 598,1159 601,1159 604,1159 607,1159 610,1159 613,1159 616,1159 619,1159 622,1159 625,1159 628,1159 631,1159 634,1159 637,1159 640,1159 643,1159 646,1159 649,1159 652,1159 655,1159 658,1159 661,1159 664,1158.9 667,1158.9 670,1158.9 673,1158.9 676,1158.8 679,1158.8 682,1158.7 685,1158.6 688,1158.5 691,1158.4 694,1158.2 697,1158 700,1157.8 703,1157.5 706,1157.2 709,1156.8 712,1156.3 715,1155.8 718,1155.2 721,1154.4 724,1153.5 727,1152.5 730,1151.4 733,1150.1 736,1148.7 739,1147 742,1145.2 745,1143.2 748,1141 751,1138.6 754,1136.1 757,1133.3 760,1130.3 763,1127.1 766,1123.8 769,1120.4 772,1116.8 775,1113.2 778,1109.4 781,1105.7 784,1102 787,1098.3 790,1094.8 793,1091.4 796,1088.2 799,1085.2 802,1082.5 805,1080.1 808,1078.1 811,1076.4 814,1075.2 817,1074.4 820,1074 823,1074.1 826,1074.6 829,1075.6 832,1076.9 835,1078.7 838,1080.9 841,1083.4 844,1086.2 847,1089.2 850,1092.5 853,1096 856,1099.5 859,1103.2 862,1106.9 865,1110.7 868,1114.4 871,1118 874,1121.5 877,1125 880,1128.2 883,1131.3 886,1134.2 889,1136.9 892,1139.5 895,1141.8 898,1143.9 901,1145.9 904,1147.6 907,1149.2 910,1150.6 913,1151.8 916,1152.9 919,1153.8 922,1154.7 925,1155.4 928,1156 931,1156.5 934,1157 937,1157.3 940,1157.6 943,1157.9 946,1158.1 949,1158.3 952,1158.4 955,1158.5 958,1158.6 961,1158.7 964,1158.8 967,1158.8 970,1158.9 973,1158.9 976,1158.9 979,1158.9 982,1159 985,1159 988,1159 991,1159 994,1159 997,1159 1000,1159 1003,1159 1006,1159 1009,1159 1012,1159 1015,1159 1018,1159 1021,1159 1024,1159 1027,1159 1030,1159 1033,1159 1036,1159 1039,1159 1042,1159 1045,1159 1048,1159 1051,1159 1054,1159 1057,1159 1060,1159 1063,1159 1066,1159 1069,1159 1072,1159 1075,1159 1078,1159 1081,1159 1084,1159 1087,1159 1090,1159 1093,1159 1096,1159 1099,1159 1102,1159 1105,1159 1108,1159 1111,1159 1114,1159 1117,1159 1120,1159 1123,1159 1126,1159 1129,1159 1132,1159 1135,1159 1138,1159 1141,1159 1144,1159 1147,1159 1150,1159 1153,1159 1156,1159 1159,1159 1162,1159 1165,1159 1168,1159 1171,1159 1174,1159 1177,1159 1180,1159 1183,1159 1186,1159 1189,1159 1192,1159 1195,1159 1198,1159 1201,1159 1204,1159 1207,1159 1210,1159 1213,1159 1216,1159 1219,1159 1222,1159 1225,1159 1228,1159 1231,1159 1234,1159 1237,1159 1240,1159 1243,1159 1246,1159 1249,1159 1252,1159 1255,1159 1258,1159 1261,1159 1264,1159 1267,1159 1270,1159 1273,1159 1276,1159 1279,1159 1282,1159 1285,1159 1288,1159 1291,1159 1294,1159 1297,1159 1300,1159 1303,1159 1306,1159 1309,1159 1312,1159 1315,1159 1318,1159 1321,1159 1324,1159 1327,1159 1330,1159 1333,1159 1336,1159 1339,1159 1342,1159 1345,1159 1348,1159 1351,1159 1354,1159 1357,1159 1360,1159 1363,1159 1366,1159 1369,1159 1372,1159 1375,1159 1378,1159 1381,1159 1384,1159 1387,1159 1390,1159 1393,1159 1396,1159 1399,1159 1402,1159 1405,1159 1408,1159 1411,1159 1414,1159 1417,1159 1420,1159 1423,1159 1426,1159 1429,1159 1432,1159 1435,1159 1438,1159 1441,1159 1444,1159 1447,1159 1450,1159 1453,1159 1456,1159 1459,1159 1462,1159 1465,1159 1468,1159 1471,1159 1474,1159 1477,1159 1480,1159 1483,1159 1486,1159 1489,1159 1492,1159 1495,1159 1498,1159 1501,1159 1504,1159 1507,1159 1510,1159 1513,1159 1516,1159 1519,1159 1522,1159 1525,1159 1528,1159 1531,1159 1534,1159 1537,1159 1540,1159 1543,1159 1546,1159 1549,1159 1552,1159 1555,1159 1558,1159 1561,1159 1564,1159 1567,1159 1570,1159 1573,1159 1576,1159 1579,1159 1582,1159 1585,1159 1588,1159 1591,1159 1594,1159 1597,1159 1600,1159 1603,1159 1606,1159 1609,1159 1612,1159 1615,1159 1618,1159 1621,1159 1624,1159 1627,1159 1630,1159 1633,1159 1636,1159 1639,1159 1642,1159 1645,1159 1648,1159 1651,1159 1654,1159 1657,1159 1660,1159 1663,1159 1666,1159 1669,1159 1672,1159 1675,1159 1678,1159 1681,1159 1684,1159 1687,1159 1690,1159 1693,1159 1696,1159 1699,1159 1702,1159 1705,1159 1708,1159 1711,1159 1714,1159 1717,1159 1720,1159 1723,1159 1726,1159 1729,1159 1732,1159 1735,1159 1738,1159 1741,1159 1744,1159 1747,1159 1750,1159 1753,1159 1756,1159 1759,1159 1762,1159 1765,1159 1768,1159 1771,1159 1774,1159 1777,1159 1780,1159 1783,1159 1786,1159 1789,1159 1792,1159 1795,1159 1798,1159 1801,1159 1804,1159 1807,1159 1810,1159 1813,1159 1816,1159 1819,1159 1822,1159 1825,1159 1828,1159 1831,1159 1834,1159 1837,1159 1840,1159" fill="none" stroke="#00f" stroke-width="9" stroke-linejoin="round"/>
<polyline points="184,1159 187,1159 190,1159 193,1159 196,1159 199,1159 202,1159 205,1159 208,1159 211,1159 214,1159 217,1159 220,1159 223,1159 226,1159 229,1159 232,1159 235,1159 238,1159 241,1159 244,1159 247,1159 250,1159 253,1159 256,1159 259,1159 262,1159 265,1159 268,1159 271,1159 274,1159 277,1159 280,1159 283,1159 286,1159 289,1159 292,1159 295,1159 298,1159 301,1159 304,1159 307,1159 310,1159 313,1159 316,1159 319,1159 322,1159 325,1159 328,1159 331,1159 334,1159 337,1159 340,1159 343,1159 346,1159 349,1159 352,1159 355,1159 358,1159 361,1159 364,1159 367,1159 370,1159 373,1159 376,1159 379,1159 382,1159 385,1159 388,1159 391,1159 394,1159 397,1159 400,1159 403,1159 406,1159 409,1159 412,1159 415,1159 418,1159 421,1159 424,1159 427,1159 430,1159 433,1159 436,1159 439,1159 442,1159 445,1159 448,1159 451,1159 454,1159 457,1159 460,1159 463,1159 466,1159 469,1159 472,1159 475,1159 478,1159 481,1159 484,1159 487,1159 490,1159 493,1159 496,1159 499,1159 502,1159 505,1159 508,1159 511,1159 514,1159 517,1159 520,1159 523,1159 526,1159 529,1159 532,1159 535,1159 538,1159 541,1159 544,1159 547,1159 550,1159 553,1159 556,1159 559,1159 562,1159 565,1159 568,1159 571,1159 574,1159 577,1159 580,1159 583,1159 586,1159 589,1159 592,1159 595,1159 598,1159 601,1159 604,1159 607,1159 610,1159 613,1159 616,1159 619,1159 622,1159 625,1159 628,1159 631,1159 634,1159 637,1159 640,1159 643,1159 646,1159 649,1159 652,1159 655,1159 658,1159 661,1159 664,1159 667,1159 670,1159 673,1159 676,1159 679,1159 682,1159 685,1159 688,1159 691,1159 694,1159 697,1159 700,1159 703,1159 706,1159 709,1159 712,1159 715,1159 718,1159 721,1159 724,1159 727,1159 730,1159 733,1159 736,1159 739,1159 742,1159 745,1159 748,1159 751,1159 754,1159 757,1159 760,1159 763,1159 766,1159 769,1159 772,1159 775,1159 778,1159 781,1159 784,1159 787,1159 790,1159 793,1159 796,1159 799,1159 802,1159 805,1159 808,1159 811,1159 814,1159 817,1159 820,1159 823,1159 826,1159 829,1159 832,1159 835,1159 838,1159 841,1159 844,1159 847,1159 850,1159 853,1159 856,1159 859,1159 862,1159 865,1159 868,1159 871,1159 874,1159 877,1159 880,1159 883,1159 886,1159 889,1159 892,1159 895,1159 898,1159 901,1159 904,1159 907,1159 910,1159 913,1159 916,1159 919,1159 922,1159 925,1159 928,1159 931,1159 934,1159 937,1159 940,1159 943,1159 946,1159 949,1159 952,1159 955,1159 958,1159 961,1159 964,1159 967,1159 970,1159 973,1159 976,1158.9 979,1158.9 982,1158.9 985,1158.9 988,1158.8 991,1158.8 994,1158.8 997,1158.7 1000,1158.6 1003,1158.5 1006,1158.4 1009,1158.3 1012,1158.1 1015,1157.9 1018,1157.6 1021,1157.4 1024,1157 1027,1156.6 1030,1156.2 1033,1155.6 1036,1155 1039,1154.3 1042,1153.4 1045,1152.5 1048,1151.4 1051,1150.2 1054,1148.8 1057,1147.3 1060,1145.6 1063,1143.8 1066,1141.8 1069,1139.6 1072,1137.2 1075,1134.6 1078,1131.8 1081,1128.9 1084,1125.8 1087,1122.5 1090,1119.1 1093,1115.6 1096,1112 1099,1108.3 1102,1104.6 1105,1100.9 1108,1097.2 1111,1093.5 1114,1090 1117,1086.6 1120,1083.3 1123,1080.3 1126,1077.5 1129,1075 1132,1072.9 1135,1071 1138,1069.6 1141,1068.5 1144,1067.8 1147,1067.5 1150,1067.6 1153,1068.2 1156,1069.1 1159,1070.5 1162,1072.2 1165,1074.3 1168,1076.7 1171,1079.4 1174,1082.3 1177,1085.5 1180,1088.8 1183,1092.3 1186,1096 1189,1099.7 1192,1103.4 1195,1107.1 1198,1110.8 1201,1114.4 1204,1118 1207,1121.4 1210,1124.7 1213,1127.9 1216,1130.9 1219,1133.7 1222,1136.3 1225,1138.8 1228,1141.1 1231,1143.1 1234,1145 1237,1146.8 1240,1148.3 1243,1149.8 1246,1151 1249,1152.1 1252,1153.1 1255,1154 1258,1154.7 1261,1155.4 1264,1156 1267,1156.5 1270,1156.9 1273,1157.3 1276,1157.6 1279,1157.8 1282,1158 1285,1158.2 1288,1158.4 1291,1158.5 1294,1158.6 1297,1158.7 1300,1158.7 1303,1158.8 1306,1158.8 1309,1158.9 1312,1158.9 1315,1158.9 1318,1158.9 1321,1159 1324,1159 1327,1159 1330,1159 1333,1159 1336,1159 1339,1159 1342,1159 1345,1159 1348,1159 1351,1159 1354,1159 1357,1159 1360,1159 1363,1159 1366,1159 1369,1159 1372,1159 1375,1159 1378,1159 1381,1159 1384,1159 1387,1159 1390,1159 1393,1159 1396,1159 1399,1159 1402,1159 1405,1159 1408,1159 1411,1159 1414,1159 1417,1159 1420,1159 1423,1159 1426,1159 1429,1159 1432,1159 1435,1159 1438,1159 1441,1159 1444,1159 1447,1159 1450,1159 1453,1159 1456,1159 1459,1159 1462,1159 1465,1159 1468,1159 1471,1159 1474,1159 1477,1159 1480,1159 1483,1159 1486,1159 1489,1159 1492,1159 1495,1159 1498,1159 1501,1159 1504,1159 1507,1159 1510,1159 1513,1159 1516,1159 1519,1159 1522,1159 1525,1159 1528,1159 1531,1159 1534,1159 1537,1159 1540,1159 1543,1159 1546,1159 1549,1159 1552,1159 1555,1159 1558,1159 1561,1159 1564,1159 1567,1159 1570,1159 1573,1159 1576,1159 1579,1159 1582,1159 1585,1159 1588,1159 1591,1159 1594,1159 1597,1159 1600,1159 1603,1159 1606,1159 1609,1159 1612,1159 1615,1159 1618,1159 1621,1159 1624,1159 1627,1159 1630,1159 1633,1159 1636,1159 1639,1159 1642,1159 1645,1159 1648,1159 1651,1159 1654,1159 1657,1159 1660,1159 1663,1159 1666,1159 1669,1159 1672,1159 1675,1159 1678,1159 1681,1159 1684,1159 1687,1159 1690,1159 1693,1159 1696,1159 1699,1159 1702,1159 1705,1159 1708,1159 1711,1159 1714,1159 1717,1159 1720,1159 1723,1159 1726,1159 1729,1159 1732,1159 1735,1159 1738,1159 1741,1159 1744,1159 1747,1159 1750,1159 1753,1159 1756,1159 1759,1159 1762,1159 1765,1159 1768,1159 1771,1159 1774,1159 1777,1159 1780,1159 1783,1159 1786,1159 1789,1159 1792,1159 1795,1159 1798,1159 1801,1159 1804,1159 1807,1159 1810,1159 1813,1159 1816,1159 1819,1159 1822,1159 1825,1159 1828,1159 1831,1159 1834,1159 1837,1159 1840,1159" fill="none" stroke="#00f" stroke-width="9" stroke-linejoin="round"/>
<polyline points="184,1159 186,1159 188,1159 190,1159 192,1159 194,1159 196,1159 198,1159 200,1159 202,1159 204,1159 206,1159 208,1159 210,1159 212,1159 214,1159 216,1159 218,1159 220,1159 222,1159 224,1159 226,1159 228,1159 230,1159 232,1159 234,1159 236,1159 238,1159 240,1159 242,1159 244,1159 246,1159 248,1159 250,1159 252,1159 254,1159 256,1159 258,1159 260,1159 262,1159 264,1159 266,1159 268,1159 270,1159 272,1159 274,1159 276,1159 278,1159 280,1159 282,1159 284,1159 286,1159 288,1159 290,1159 292,1159 294,1159 296,1159 298,1159 300,1159 302,1159 304,1159 306,1159 308,1159 310,1159 312,1159 314,1159 316,1159 318,1159 320,1159 322,1159 324,1159 326,1159 328,1159 330,1159 332,1159 334,1159 336,1159 338,1159 340,1159 342,1159 344,1159 346,1159 348,1159 350,1159 352,1159 354,1159 356,1159 358,1159 360,1159 362,1159 364,1159 366,1159 368,1159 370,1159 372,1159 374,1159 376,1159 378,1159 380,1159 382,1159 384,1159 386,1159 388,1159 390,1159 392,1159 394,1159 396,1159 398,1159 400,1159 402,1159 404,1159 406,1159 408,1159 410,1159 412,1159 414,1159 416,1159 418,1159 420,1159 422,1159 424,1159 426,1159 428,1159 430,1159 432,1159 434,1159 436,1159 438,1159 440,1159 442,1159 444,1159 446,1159 448,1159 450,1159 452,1159 454,1159 456,1159 458,1159 460,1159 462,1159 464,1159 466,1159 468,1159 470,1159 472,1159 474,1159 476,1159 478,1159 480,1159 482,1159 484,1159 486,1159 488,1159 490,1159 492,1159 494,1159 496,1159 498,1159 500,1159 502,1159 504,1159 506,1159 508,1159 510,1159 512,1159 514,1159 516,1159 518,1159 520,1159 522,1159 524,1159 526,1159 528,1159 530,1159 532,1159 534,1159 536,1159 538,1159 540,1159 542,1159 544,1159 546,1159 548,1159 550,1159 552,1159 554,1159 556,1159 558,1159 560,1159 562,1159 564,1159 566,1159 568,1159 570,1159 572,1159 574,1159 576,1159 578,1159 580,1159 582,1159 584,1159 586,1159 588,1159 590,1159 592,1159 594,1159 596,1159 598,1159 600,1159 602,1159 604,1159 606,1159 608,1159 610,1159 612,1159 614,1159 616,1159 618,1158.9 620,1158.9 622,1158.9 624,1158.9 626,1158.9 628,1158.9 630,1158.9 632,1158.9 634,1158.9 636,1158.9 638,1158.9 640,1158.8 642,1158.8 644,1158.8 646,1158.8 648,1158.8 650,1158.7 652,1158.7 654,1158.7 656,1158.6 658,1158.6 660,1158.5 662,1158.5 664,1158.4 666,1158.4 668,1158.3 670,1158.2 672,1158.2 674,1158.1 676,1158 678,1157.9 680,1157.7 682,1157.6 684,1157.5 686,1157.3 688,1157.1 690,1156.9 692,1156.7 694,1156.4 696,1156.1 698,1155.8 700,1155.5 702,1155.1 704,1154.7 706,1154.3 708,1153.8 710,1153.2 712,1152.6 714,1152 716,1151.3 718,1150.5 720,1149.6 722,1148.7 724,1147.7 726,1146.6 728,1145.4 730,1144.1 732,1142.7 734,1141.2 736,1139.6 738,1137.9 740,1136.1 742,1134.1 744,1132 746,1129.7 748,1127.4 750,1124.8 752,1122.2 754,1119.4 756,1116.4 758,1113.3 760,1110 762,1106.6 764,1103 766,1099.3 768,1095.5 770,1091.5 772,1087.4 774,1083.1 776,1078.7 778,1074.2 780,1069.6 782,1064.9 784,1060.1 786,1055.2 788,1050.2 790,1045.2 792,1040.1 794,1034.9 796,1029.7 798,1024.5 800,1019.3 802,1014 804,1008.8 806,1003.5 808,998.3 810,993 812,987.8 814,982.6 816,977.4 818,972.3 820,967.2 822,962.1 824,957 826,951.9 828,946.9 830,941.9 832,936.8 834,931.8 836,926.7 838,921.6 840,916.5 842,911.3 844,906.1 846,900.8 848,895.5 850,890 852,884.4 854,878.7 856,872.9 858,867 860,860.9 862,854.6 864,848.2 866,841.6 868,834.9 870,828 872,820.8 874,813.5 876,806 878,798.4 880,790.5 882,782.5 884,774.2 886,765.8 888,757.3 890,748.5 892,739.7 894,730.7 896,721.5 898,712.3 900,702.9 902,693.4 904,683.9 906,674.3 908,664.7 910,655 912,645.3 914,635.6 916,625.9 918,616.3 920,606.7 922,597.2 924,587.8 926,578.5 928,569.3 930,560.2 932,551.3 934,542.6 936,534.1 938,525.7 940,517.6 942,509.8 944,502.1 946,494.8 948,487.7 950,480.9 952,474.4 954,468.3 956,462.4 958,456.9 960,451.8 962,447 964,442.6 966,438.5 968,434.8 970,431.6 972,428.7 974,426.2 976,424.1 978,422.4 980,421.2 982,420.3 984,419.9 986,419.9 988,420.3 990,421.1 992,422.3 994,424 996,426 998,428.5 1000,431.3 1002,434.6 1004,438.2 1006,442.2 1008,446.6 1010,451.3 1012,456.4 1014,461.8 1016,467.6 1018,473.7 1020,480 1022,486.7 1024,493.7 1026,500.9 1028,508.4 1030,516.2 1032,524.1 1034,532.3 1036,540.6 1038,549.2 1040,557.9 1042,566.7 1044,575.7 1046,584.8 1048,594 1050,603.2 1052,612.5 1054,621.9 1056,631.3 1058,640.7 1060,650.1 1062,659.4 1064,668.8 1066,678.1 1068,687.3 1070,696.4 1072,705.5 1074,714.5 1076,723.3 1078,732 1080,740.6 1082,749.1 1084,757.4 1086,765.6 1088,773.6 1090,781.4 1092,789.1 1094,796.7 1096,804 1098,811.2 1100,818.3 1102,825.1 1104,831.9 1106,838.4 1108,844.9 1110,851.2 1112,857.3 1114,863.4 1116,869.3 1118,875.1 1120,880.8 1122,886.5 1124,892 1126,897.5 1128,902.9 1130,908.3 1132,913.6 1134,918.9 1136,924.2 1138,929.4 1140,934.7 1142,939.9 1144,945.1 1146,950.3 1148,955.6 1150,960.8 1152,966 1154,971.3 1156,976.5 1158,981.8 1160,987.1 1162,992.4 1164,997.7 1166,1002.9 1168,1008.2 1170,1013.4 1172,1018.7 1174,1023.9 1176,1029 1178,1034.1 1180,1039.2 1182,1044.2 1184,1049.2 1186,1054 1188,1058.8 1190,1063.5 1192,1068.1 1194,1072.6 1196,1077 1198,1081.2 1200,1085.4 1202,1089.4 1204,1093.3 1206,1097 1208,1100.6 1210,1104.1 1212,1107.3 1214,1110.5 1216,1113.5 1218,1116.3 1220,1118.9 1222,1121.4 1224,1123.7 1226,1125.9 1228,1127.8 1230,1129.6 1232,1131.2 1234,1132.5 1236,1133.7 1238,1134.7 1240,1135.5 1242,1136 1244,1136.3 1246,1136.4 1248,1136.2 1250,1135.8 1252,1135.1 1254,1134.1 1256,1132.8 1258,1131.1 1260,1129.2 1262,1126.9 1264,1124.2 1266,1121.2 1268,1117.8 1270,1113.9 1272,1109.7 1274,1105 1276,1099.8 1278,1094.3 1280,1088.2 1282,1081.8 1284,1074.8 1286,1067.4 1288,1059.6 1290,1051.3 1292,1042.6 1294,1033.5 1296,1024.1 1298,1014.3 1300,1004.2 1302,993.9 1304,983.3 1306,972.6 1308,961.7 1310,950.8 1312,939.9 1314,929 1316,918.3 1318,907.7 1320,897.4 1322,887.4 1324,877.7 1326,868.4 1328,859.6 1330,851.2 1332,843.3 1334,836 1336,829.2 1338,822.8 1340,817 1342,811.6 1344,806.5 1346,801.7 1348,797.1 1350,792.6 1352,788.1 1354,783.4 1356,778.5 1358,773.1 1360,767.2 1362,760.6 1364,753.3 1366,745.2 1368,736.3 1370,726.4 1372,715.6 1374,703.9 1376,691.3 1378,677.8 1380,663.4 1382,648.1 1384,632.1 1386,615.3 1388,597.8 1390,579.7 1392,561 1394,541.8 1396,522.3 1398,502.6 1400,482.8 1402,463.2 1404,443.9 1406,425.1 1408,407 1410,390 1412,374.1 1414,359.5 1416,346.5 1418,335 1420,325.3 1422,317.3 1424,311 1426,306.4 1428,303.4 1430,301.8 1432,301.5 1434,302.3 1436,304.1 1438,306.6 1440,309.5 1442,312.8 1444,316.1 1446,319.4 1448,322.5 1450,325.2 1452,327.5 1454,329.2 1456,330.3 1458,330.9 1460,330.8 1462,330.3 1464,329.2 1466,327.8 1468,326 1470,324 1472,321.9 1474,319.9 1476,317.9 1478,316.3 1480,314.9 1482,314.1 1484,313.8 1486,314.2 1488,315.3 1490,317.3 1492,320.1 1494,323.8 1496,328.5 1498,334.1 1500,340.7 1502,348.3 1504,356.9 1506,366.5 1508,377 1510,388.5 1512,400.8 1514,414 1516,428.1 1518,442.8 1520,458.3 1522,474.4 1524,491.1 1526,508.4 1528,526.1 1530,544.2 1532,562.6 1534,581.4 1536,600.3 1538,619.5 1540,638.7 1542,658 1544,677.2 1546,696.4 1548,715.5 1550,734.4 1552,753 1554,771.5 1556,789.6 1558,807.4 1560,824.8 1562,841.8 1564,858.4 1566,874.5 1568,890.2 1570,905.3 1572,920 1574,934.1 1576,947.7 1578,960.8 1580,973.3 1582,985.3 1584,996.8 1586,1007.7 1588,1018.1 1590,1027.9 1592,1037.3 1594,1046.1 1596,1054.5 1598,1062.4 1600,1069.8 1602,1076.7 1604,1083.3 1606,1089.4 1608,1095.1 1610,1100.4 1612,1105.4 1614,1110 1616,1114.3 1618,1118.2 1620,1121.9 1622,1125.3 1624,1128.4 1626,1131.3 1628,1133.9 1630,1136.4 1632,1138.6 1634,1140.6 1636,1142.5 1638,1144.1 1640,1145.7 1642,1147.1 1644,1148.3 1646,1149.5 1648,1150.5 1650,1151.4 1652,1152.3 1654,1153 1656,1153.7 1658,1154.3 1660,1154.9 1662,1155.3 1664,1155.8 1666,1156.2 1668,1156.5 1670,1156.8 1672,1157.1 1674,1157.3 1676,1157.5 1678,1157.7 1680,1157.9 1682,1158 1684,1158.2 1686,1158.3 1688,1158.4 1690,1158.5 1692,1158.5 1694,1158.6 1696,1158.6 1698,1158.7 1700,1158.7 1702,1158.8 1704,1158.8 1706,1158.8 1708,1158.9 1710,1158.9 1712,1158.9 1714,1158.9 1716,1158.9 1718,1158.9 1720,1158.9 1722,1159 1724,1159 1726,1159 1728,1159 1730,1159 1732,1159 1734,1159 1736,1159 1738,1159 1740,1159 1742,1159 1744,1159 1746,1159 1748,1159 1750,1159 1752,1159 1754,1159 1756,1159 1758,1159 1760,1159 1762,1159 1764,1159 1766,1159 1768,1159 1770,1159 1772,1159 1774,1159 1776,1159 1778,1159 1780,1159 1782,1159 1784,1159 1786,1159 1788,1159 1790,1159 1792,1159 1794,1159 1796,1159 1798,1159 1800,1159 1802,1159 1804,1159 1806,1159 1808,1159 1810,1159 1812,1159 1814,1159 1816,1159 1818,1159 1820,1159 1822,1159 1824,1159 1826,1159 1828,1159 1830,1159 1832,1159 1834,1159 1836,1159 1838,1159 1840,1159 1842,1159" fill="none" stroke="#000" stroke-width="10" stroke-dasharray="26 20" stroke-linejoin="round"/>
<line x1="196" y1="340.6" x2="343" y2="340.6" stroke="#000" stroke-width="11"/>
<text x="354" y="360" font-size="61">Original peak</text>
<line x1="196" y1="414.6" x2="343" y2="414.6" stroke="#f00" stroke-width="11"/>
<text x="354" y="436.5" font-size="61">Au4f<tspan font-size="36" dy="20">7/2</tspan></text>
<line x1="196" y1="507.5" x2="343" y2="507.5" stroke="#00f" stroke-width="11"/>
<text x="354" y="527.5" font-size="61">Au4f<tspan font-size="36" dy="20">5/2</tspan></text>
<line x1="196" y1="600" x2="318" y2="600" stroke="#000" stroke-width="11" stroke-dasharray="27.5 19"/>
<text x="354" y="620" font-size="61">Cumulative peak</text>
<line x1="1695" y1="234" x2="1695" y2="402" stroke="#000" stroke-width="8.5" stroke-linecap="round"/><text x="1710.5" y="329" font-size="61" font-weight="bold">25 cps</text>
<line x1="1489" y1="340" x2="1489" y2="901" stroke="#000" stroke-width="10" stroke-linecap="round" stroke-dasharray="0 19"/>
<line x1="1475" y1="920.6" x2="1504" y2="920.6" stroke="#000" stroke-width="10" stroke-linecap="round"/>
<text x="1445.5" y="971" font-size="51" font-weight="normal" stroke="#000" stroke-width="1.6" letter-spacing="3">Au</text>
<text x="1511.8" y="944" font-size="49" stroke="#000" stroke-width="1.2">0</text>
<line x1="1417.5" y1="730" x2="1417.5" y2="992.5" stroke="#000" stroke-width="10" stroke-linecap="round" stroke-dasharray="0 19"/>
<line x1="1404" y1="1011" x2="1431" y2="1011" stroke="#000" stroke-width="10" stroke-linecap="round"/>
<text x="1383.7" y="1062.5" font-size="51" font-weight="normal" stroke="#000" stroke-width="1.6" letter-spacing="3">Au</text>
<text x="1448.5" y="1035.7" font-size="49" stroke="#000" stroke-width="1.2">+</text>
<line x1="1345.5" y1="850" x2="1345.5" y2="1068" stroke="#000" stroke-width="10" stroke-linecap="round" stroke-dasharray="0 19"/>
<line x1="1330" y1="1087.5" x2="1360" y2="1087.5" stroke="#000" stroke-width="10" stroke-linecap="round"/>
<text x="1300.6" y="1138.8" font-size="51" font-weight="normal" stroke="#000" stroke-width="1.6" letter-spacing="3">Au</text>
<text x="1369" y="1111" font-size="49" stroke="#000" stroke-width="1.2">3+</text>
<rect x="151.5" y="1694" width="1768" height="1295" fill="none" stroke="#000" stroke-width="12.5" stroke-linejoin="round"/>
<line x1="278" y1="2989" x2="278" y2="3014" stroke="#000" stroke-width="12.5" stroke-linecap="round"/>
<line x1="530.7" y1="2989" x2="530.7" y2="3014" stroke="#000" stroke-width="12.5" stroke-linecap="round"/>
<line x1="783.3" y1="2989" x2="783.3" y2="3014" stroke="#000" stroke-width="12.5" stroke-linecap="round"/>
<line x1="1036" y1="2989" x2="1036" y2="3014" stroke="#000" stroke-width="12.5" stroke-linecap="round"/>
<line x1="1288.6" y1="2989" x2="1288.6" y2="3014" stroke="#000" stroke-width="12.5" stroke-linecap="round"/>
<line x1="1541.3" y1="2989" x2="1541.3" y2="3014" stroke="#000" stroke-width="12.5" stroke-linecap="round"/>
<line x1="1794" y1="2989" x2="1794" y2="3014" stroke="#000" stroke-width="12.5" stroke-linecap="round"/>
<line x1="151.7" y1="2989" x2="151.7" y2="3002" stroke="#000" stroke-width="12.5" stroke-linecap="round"/>
<line x1="404.3" y1="2989" x2="404.3" y2="3002" stroke="#000" stroke-width="12.5" stroke-linecap="round"/>
<line x1="657" y1="2989" x2="657" y2="3002" stroke="#000" stroke-width="12.5" stroke-linecap="round"/>
<line x1="909.6" y1="2989" x2="909.6" y2="3002" stroke="#000" stroke-width="12.5" stroke-linecap="round"/>
<line x1="1162.3" y1="2989" x2="1162.3" y2="3002" stroke="#000" stroke-width="12.5" stroke-linecap="round"/>
<line x1="1415" y1="2989" x2="1415" y2="3002" stroke="#000" stroke-width="12.5" stroke-linecap="round"/>
<line x1="1667.6" y1="2989" x2="1667.6" y2="3002" stroke="#000" stroke-width="12.5" stroke-linecap="round"/>
<line x1="1920.3" y1="2989" x2="1920.3" y2="3002" stroke="#000" stroke-width="12.5" stroke-linecap="round"/>
<text x="278" y="3090" text-anchor="middle" font-size="78" font-weight="bold">94</text>
<text x="530.7" y="3090" text-anchor="middle" font-size="78" font-weight="bold">92</text>
<text x="783.3" y="3090" text-anchor="middle" font-size="78" font-weight="bold">90</text>
<text x="1036" y="3090" text-anchor="middle" font-size="78" font-weight="bold">88</text>
<text x="1288.6" y="3090" text-anchor="middle" font-size="78" font-weight="bold">86</text>
<text x="1541.3" y="3090" text-anchor="middle" font-size="78" font-weight="bold">84</text>
<text x="1794" y="3090" text-anchor="middle" font-size="78" font-weight="bold">82</text>
<text x="1036" y="3173" text-anchor="middle" font-size="78" font-weight="bold">Binding energy (eV)</text>
<text transform="translate(101,2340) rotate(-90)" text-anchor="middle" font-size="78" font-weight="bold">Intensity (a.u.)</text>
<text transform="translate(166.7,1889) scale(1.013,1)" font-size="206" font-weight="bold">B</text>
<polyline points="167.5,2900 182.5,2867.5 196,2905 209,2855 222.5,2910 235,2875 247.5,2877.5 259,2912.5 272.5,2872.5 285,2875 296,2887.5 309,2857.5 322.5,2910 335,2865 350,2897.5 362.5,2902.5 372.5,2862.5 385,2925 397.5,2895 409,2827.5 422.5,2845 435,2812.5 447.5,2865 460,2920 474,2880 486,2847.5 499,2905 511,2870 525,2915 537.5,2872.5 550,2880 562.5,2879 575,2892.5 587.5,2872.5 600,2915 625,2840 637.5,2915 650,2880 664,2850 675,2877.5 700,2910 712.5,2895 725,2907.5 742.5,2880 765,2860 780,2895 802.5,2945 812.5,2807.5 825,2795 837.5,2895 847.5,2780 860,2780 867.5,2730 875,2620 887.5,2650 897.5,2575 910,2500 922.5,2425 935,2280 942.5,2240 947.5,2270 955,2200 965,2150 975,2075 990,2057.5 1010,2060 1020,2080 1030,2100 1040,2165 1047.5,2215 1060,2260 1070,2290 1080,2350 1090,2425 1100,2500 1110,2565 1120,2600 1130,2650 1140,2710 1152.5,2740 1167.5,2755 1180,2825 1192.5,2895 1220,2920 1242.5,2805 1255,2850 1285,2825 1295,2850 1300,2775 1310,2650 1322.5,2600 1330,2550 1337.5,2545 1345,2590 1350,2500 1360,2450 1370,2365 1380,2250 1385,2235 1395,2200 1405,2100 1420,2000 1430,1925 1440,1875 1450,1830 1460,1795 1472.5,1777.5 1485,1790 1495,1815 1505,1875 1520,1925 1535,1985 1545,2050 1555,2125 1565,2250 1575,2375 1585,2450 1595,2500 1605,2560 1621.9,2668.7 1637.5,2690.5 1643.7,2756 1645.3,2803 1657.8,2824.8 1678,2871.6 1687.4,2890.4 1698.3,2824.8 1707.7,2862.3 1723.3,2929.4 1734.2,2877.9 1748.3,2924.7 1759.2,2868.5 1771.7,2856 1793.6,2874.7 1812.3,2924.7 1828,2884" fill="none" stroke="#000" stroke-width="11" stroke-linejoin="round" stroke-linecap="round"/>
<line x1="860" y1="2889" x2="1075" y2="2889" stroke="#f00" stroke-width="7.5"/>
<polyline points="168,2886 171,2886 174,2886 177,2886 180,2886 183,2886 186,2886 189,2886 192,2886 195,2886 198,2886 201,2886 204,2886 207,2886 210,2886 213,2886 216,2886 219,2886 222,2886 225,2886 228,2886 231,2886 234,2886 237,2886 240,2886 243,2886 246,2886 249,2886 252,2886 255,2886 258,2886 261,2886 264,2886 267,2886 270,2886 273,2886 276,2886 279,2886 282,2886 285,2886 288,2886 291,2886 294,2886 297,2886 300,2886 303,2886 306,2886 309,2886 312,2886 315,2886 318,2886 321,2886 324,2886 327,2886 330,2886 333,2886 336,2886 339,2886 342,2886 345,2886 348,2886 351,2886 354,2886 357,2886 360,2886 363,2886 366,2886 369,2886 372,2886 375,2886 378,2886 381,2886 384,2886 387,2886 390,2886 393,2886 396,2886 399,2886 402,2886 405,2886 408,2886 411,2886 414,2886 417,2886 420,2886 423,2886 426,2886 429,2886 432,2886 435,2886 438,2886 441,2886 444,2886 447,2886 450,2886 453,2886 456,2886 459,2886 462,2886 465,2886 468,2886 471,2886 474,2886 477,2886 480,2886 483,2886 486,2886 489,2886 492,2886 495,2886 498,2886 501,2886 504,2886 507,2886 510,2886 513,2886 516,2886 519,2886 522,2886 525,2886 528,2886 531,2886 534,2886 537,2886 540,2886 543,2886 546,2886 549,2886 552,2886 555,2886 558,2886 561,2886 564,2886 567,2886 570,2886 573,2886 576,2886 579,2886 582,2886 585,2886 588,2886 591,2886 594,2886 597,2886 600,2886 603,2886 606,2886 609,2886 612,2886 615,2886 618,2886 621,2886 624,2886 627,2886 630,2886 633,2886 636,2886 639,2886 642,2886 645,2886 648,2886 651,2886 654,2886 657,2886 660,2886 663,2886 666,2886 669,2886 672,2886 675,2886 678,2886 681,2886 684,2886 687,2886 690,2886 693,2886 696,2886 699,2886 702,2886 705,2886 708,2886 711,2886 714,2886 717,2886 720,2886 723,2886 726,2886 729,2886 732,2886 735,2886 738,2886 741,2886 744,2886 747,2886 750,2886 753,2886 756,2886 759,2886 762,2886 765,2886 768,2886 771,2886 774,2886 777,2886 780,2886 783,2886 786,2886 789,2886 792,2886 795,2886 798,2886 801,2886 804,2886 807,2886 810,2886 813,2886 816,2886 819,2886 822,2886 825,2886 828,2886 831,2886 834,2886 837,2886 840,2886 843,2886 846,2886 849,2886 852,2886 855,2886 858,2886 861,2886 864,2886 867,2886 870,2886 873,2886 876,2886 879,2886 882,2886 885,2886 888,2886 891,2886 894,2886 897,2886 900,2886 903,2886 906,2886 909,2886 912,2886 915,2886 918,2886 921,2886 924,2886 927,2886 930,2886 933,2886 936,2886 939,2886 942,2886 945,2886 948,2886 951,2886 954,2886 957,2886 960,2886 963,2886 966,2886 969,2886 972,2886 975,2886 978,2886 981,2886 984,2886 987,2886 990,2886 993,2886 996,2886 999,2886 1002,2886 1005,2886 1008,2886 1011,2886 1014,2886 1017,2886 1020,2886 1023,2886 1026,2886 1029,2886 1032,2886 1035,2886 1038,2886 1041,2886 1044,2886 1047,2886 1050,2886 1053,2886 1056,2886 1059,2886 1062,2886 1065,2886 1068,2886 1071,2886 1074,2886 1077,2886 1080,2886 1083,2886 1086,2886 1089,2886 1092,2886 1095,2886 1098,2886 1101,2886 1104,2886 1107,2886 1110,2886 1113,2886 1116,2886 1119,2886 1122,2886 1125,2886 1128,2886 1131,2886 1134,2886 1137,2886 1140,2886 1143,2886 1146,2886 1149,2886 1152,2886 1155,2886 1158,2886 1161,2886 1164,2886 1167,2886 1170,2886 1173,2886 1176,2886 1179,2886 1182,2886 1185,2886 1188,2886 1191,2886 1194,2886 1197,2886 1200,2886 1203,2886 1206,2886 1209,2885.9 1212,2885.9 1215,2885.9 1218,2885.9 1221,2885.9 1224,2885.8 1227,2885.8 1230,2885.8 1233,2885.7 1236,2885.6 1239,2885.5 1242,2885.4 1245,2885.3 1248,2885.1 1251,2885 1254,2884.7 1257,2884.5 1260,2884.2 1263,2883.8 1266,2883.3 1269,2882.8 1272,2882.2 1275,2881.5 1278,2880.6 1281,2879.7 1284,2878.5 1287,2877.2 1290,2875.7 1293,2874 1296,2872 1299,2869.7 1302,2867.1 1305,2864.1 1308,2860.8 1311,2857 1314,2852.8 1317,2848 1320,2842.7 1323,2836.8 1326,2830.3 1329,2823.1 1332,2815.1 1335,2806.4 1338,2796.8 1341,2786.4 1344,2775.1 1347,2762.8 1350,2749.6 1353,2735.4 1356,2720.2 1359,2704 1362,2686.8 1365,2668.6 1368,2649.4 1371,2629.2 1374,2608.1 1377,2586.2 1380,2563.4 1383,2539.9 1386,2515.7 1389,2491 1392,2465.9 1395,2440.4 1398,2414.8 1401,2389.1 1404,2363.5 1407,2338.2 1410,2313.3 1413,2288.9 1416,2265.3 1419,2242.7 1422,2221.1 1425,2200.7 1428,2181.8 1431,2164.4 1434,2148.7 1437,2134.8 1440,2122.9 1443,2113 1446,2105.1 1449,2099.5 1452,2096.1 1455,2095 1458,2096.1 1461,2099.5 1464,2105.1 1467,2113 1470,2122.9 1473,2134.8 1476,2148.7 1479,2164.4 1482,2181.8 1485,2200.7 1488,2221.1 1491,2242.7 1494,2265.3 1497,2288.9 1500,2313.3 1503,2338.2 1506,2363.5 1509,2389.1 1512,2414.8 1515,2440.4 1518,2465.9 1521,2491 1524,2515.7 1527,2539.9 1530,2563.4 1533,2586.2 1536,2608.1 1539,2629.2 1542,2649.4 1545,2668.6 1548,2686.8 1551,2704 1554,2720.2 1557,2735.4 1560,2749.6 1563,2762.8 1566,2775.1 1569,2786.4 1572,2796.8 1575,2806.4 1578,2815.1 1581,2823.1 1584,2830.3 1587,2836.8 1590,2842.7 1593,2848 1596,2852.8 1599,2857 1602,2860.8 1605,2864.1 1608,2867.1 1611,2869.7 1614,2872 1617,2874 1620,2875.7 1623,2877.2 1626,2878.5 1629,2879.7 1632,2880.6 1635,2881.5 1638,2882.2 1641,2882.8 1644,2883.3 1647,2883.8 1650,2884.2 1653,2884.5 1656,2884.7 1659,2885 1662,2885.1 1665,2885.3 1668,2885.4 1671,2885.5 1674,2885.6 1677,2885.7 1680,2885.8 1683,2885.8 1686,2885.8 1689,2885.9 1692,2885.9 1695,2885.9 1698,2885.9 1701,2885.9 1704,2886 1707,2886 1710,2886 1713,2886 1716,2886 1719,2886 1722,2886 1725,2886 1728,2886 1731,2886 1734,2886 1737,2886 1740,2886 1743,2886 1746,2886 1749,2886 1752,2886 1755,2886 1758,2886 1761,2886 1764,2886 1767,2886 1770,2886 1773,2886 1776,2886 1779,2886 1782,2886 1785,2886 1788,2886 1791,2886 1794,2886 1797,2886 1800,2886 1803,2886 1806,2886 1809,2886 1812,2886 1815,2886 1818,2886 1821,2886 1824,2886 1827,2886" fill="none" stroke="#f00" stroke-width="9" stroke-linejoin="round"/>
<polyline points="168,2886 171,2886 174,2886 177,2886 180,2886 183,2886 186,2886 189,2886 192,2886 195,2886 198,2886 201,2886 204,2886 207,2886 210,2886 213,2886 216,2886 219,2886 222,2886 225,2886 228,2886 231,2886 234,2886 237,2886 240,2886 243,2886 246,2886 249,2886 252,2886 255,2886 258,2886 261,2886 264,2886 267,2886 270,2886 273,2886 276,2886 279,2886 282,2886 285,2886 288,2886 291,2886 294,2886 297,2886 300,2886 303,2886 306,2886 309,2886 312,2886 315,2886 318,2886 321,2886 324,2886 327,2886 330,2886 333,2886 336,2886 339,2886 342,2886 345,2886 348,2886 351,2886 354,2886 357,2886 360,2886 363,2886 366,2886 369,2886 372,2886 375,2886 378,2886 381,2886 384,2886 387,2886 390,2886 393,2886 396,2886 399,2886 402,2886 405,2886 408,2886 411,2886 414,2886 417,2886 420,2886 423,2886 426,2886 429,2886 432,2886 435,2886 438,2886 441,2886 444,2886 447,2886 450,2886 453,2886 456,2886 459,2886 462,2886 465,2886 468,2886 471,2886 474,2886 477,2886 480,2886 483,2886 486,2886 489,2886 492,2886 495,2886 498,2886 501,2886 504,2886 507,2886 510,2886 513,2886 516,2886 519,2886 522,2886 525,2886 528,2886 531,2886 534,2886 537,2886 540,2886 543,2886 546,2886 549,2886 552,2886 555,2886 558,2886 561,2886 564,2886 567,2886 570,2886 573,2886 576,2886 579,2886 582,2886 585,2886 588,2886 591,2886 594,2886 597,2886 600,2886 603,2886 606,2886 609,2886 612,2886 615,2886 618,2886 621,2886 624,2886 627,2886 630,2886 633,2886 636,2886 639,2886 642,2886 645,2886 648,2886 651,2886 654,2886 657,2886 660,2886 663,2886 666,2886 669,2886 672,2886 675,2886 678,2886 681,2886 684,2886 687,2886 690,2886 693,2886 696,2886 699,2886 702,2886 705,2886 708,2886 711,2886 714,2886 717,2886 720,2886 723,2886 726,2886 729,2886 732,2886 735,2886 738,2886 741,2886 744,2886 747,2886 750,2886 753,2886 756,2886 759,2886 762,2886 765,2886 768,2886 771,2886 774,2886 777,2886 780,2886 783,2886 786,2886 789,2886 792,2886 795,2886 798,2886 801,2886 804,2886 807,2886 810,2886 813,2886 816,2886 819,2886 822,2886 825,2886 828,2886 831,2886 834,2886 837,2886 840,2886 843,2886 846,2886 849,2886 852,2886 855,2886 858,2886 861,2886 864,2886 867,2886 870,2886 873,2886 876,2886 879,2886 882,2886 885,2886 888,2886 891,2886 894,2886 897,2886 900,2886 903,2886 906,2886 909,2886 912,2886 915,2886 918,2886 921,2886 924,2886 927,2886 930,2886 933,2886 936,2886 939,2886 942,2886 945,2886 948,2886 951,2886 954,2886 957,2886 960,2886 963,2886 966,2886 969,2886 972,2886 975,2886 978,2886 981,2886 984,2886 987,2886 990,2886 993,2886 996,2886 999,2886 1002,2886 1005,2886 1008,2886 1011,2886 1014,2886 1017,2886 1020,2886 1023,2886 1026,2886 1029,2886 1032,2886 1035,2886 1038,2886 1041,2886 1044,2886 1047,2886 1050,2886 1053,2886 1056,2886 1059,2886 1062,2886 1065,2886 1068,2886 1071,2886 1074,2886 1077,2886 1080,2886 1083,2886 1086,2886 1089,2886 1092,2886 1095,2886 1098,2886 1101,2886 1104,2886 1107,2886 1110,2886 1113,2886 1116,2886 1119,2886 1122,2886 1125,2886 1128,2886 1131,2886 1134,2886 1137,2886 1140,2886 1143,2886 1146,2886 1149,2886 1152,2886 1155,2886 1158,2886 1161,2886 1164,2886 1167,2886 1170,2886 1173,2886 1176,2886 1179,2886 1182,2886 1185,2886 1188,2886 1191,2886 1194,2886 1197,2886 1200,2886 1203,2886 1206,2886 1209,2886 1212,2886 1215,2886 1218,2886 1221,2886 1224,2886 1227,2886 1230,2886 1233,2886 1236,2886 1239,2886 1242,2886 1245,2886 1248,2886 1251,2886 1254,2886 1257,2886 1260,2886 1263,2885.9 1266,2885.9 1269,2885.9 1272,2885.9 1275,2885.9 1278,2885.8 1281,2885.8 1284,2885.8 1287,2885.7 1290,2885.7 1293,2885.6 1296,2885.5 1299,2885.4 1302,2885.3 1305,2885.2 1308,2885.1 1311,2884.9 1314,2884.7 1317,2884.4 1320,2884.2 1323,2883.9 1326,2883.5 1329,2883.1 1332,2882.6 1335,2882 1338,2881.4 1341,2880.7 1344,2879.8 1347,2878.9 1350,2877.8 1353,2876.6 1356,2875.3 1359,2873.8 1362,2872.1 1365,2870.2 1368,2868.1 1371,2865.7 1374,2863.1 1377,2860.2 1380,2857 1383,2853.5 1386,2849.6 1389,2845.4 1392,2840.7 1395,2835.7 1398,2830.2 1401,2824.3 1404,2817.9 1407,2811 1410,2803.6 1413,2795.7 1416,2787.2 1419,2778.2 1422,2768.7 1425,2758.5 1428,2747.9 1431,2736.6 1434,2724.8 1437,2712.5 1440,2699.7 1443,2686.3 1446,2672.5 1449,2658.2 1452,2643.6 1455,2628.6 1458,2613.3 1461,2597.7 1464,2581.9 1467,2566 1470,2550 1473,2534 1476,2518.1 1479,2502.3 1482,2486.8 1485,2471.6 1488,2456.7 1491,2442.4 1494,2428.6 1497,2415.5 1500,2403 1503,2391.4 1506,2380.6 1509,2370.8 1512,2361.9 1515,2354.2 1518,2347.5 1521,2342 1524,2337.6 1527,2334.5 1530,2332.6 1533,2332 1536,2332.6 1539,2334.5 1542,2337.6 1545,2342 1548,2347.5 1551,2354.2 1554,2361.9 1557,2370.8 1560,2380.6 1563,2391.4 1566,2403 1569,2415.5 1572,2428.6 1575,2442.4 1578,2456.7 1581,2471.6 1584,2486.8 1587,2502.3 1590,2518.1 1593,2534 1596,2550 1599,2566 1602,2581.9 1605,2597.7 1608,2613.3 1611,2628.6 1614,2643.6 1617,2658.2 1620,2672.5 1623,2686.3 1626,2699.7 1629,2712.5 1632,2724.8 1635,2736.6 1638,2747.9 1641,2758.5 1644,2768.7 1647,2778.2 1650,2787.2 1653,2795.7 1656,2803.6 1659,2811 1662,2817.9 1665,2824.3 1668,2830.2 1671,2835.7 1674,2840.7 1677,2845.4 1680,2849.6 1683,2853.5 1686,2857 1689,2860.2 1692,2863.1 1695,2865.7 1698,2868.1 1701,2870.2 1704,2872.1 1707,2873.8 1710,2875.3 1713,2876.6 1716,2877.8 1719,2878.9 1722,2879.8 1725,2880.7 1728,2881.4 1731,2882 1734,2882.6 1737,2883.1 1740,2883.5 1743,2883.9 1746,2884.2 1749,2884.4 1752,2884.7 1755,2884.9 1758,2885.1 1761,2885.2 1764,2885.3 1767,2885.4 1770,2885.5 1773,2885.6 1776,2885.7 1779,2885.7 1782,2885.8 1785,2885.8 1788,2885.8 1791,2885.9 1794,2885.9 1797,2885.9 1800,2885.9 1803,2885.9 1806,2886 1809,2886 1812,2886 1815,2886 1818,2886 1821,2886 1824,2886 1827,2886" fill="none" stroke="#f00" stroke-width="9" stroke-linejoin="round"/>
<polyline points="168,2886 171,2886 174,2886 177,2886 180,2886 183,2886 186,2886 189,2886 192,2886 195,2886 198,2886 201,2886 204,2886 207,2886 210,2886 213,2886 216,2886 219,2886 222,2886 225,2886 228,2886 231,2886 234,2886 237,2886 240,2886 243,2886 246,2886 249,2886 252,2886 255,2886 258,2886 261,2886 264,2886 267,2886 270,2886 273,2886 276,2886 279,2886 282,2886 285,2886 288,2886 291,2886 294,2886 297,2886 300,2886 303,2886 306,2886 309,2886 312,2886 315,2886 318,2886 321,2886 324,2886 327,2886 330,2886 333,2886 336,2886 339,2886 342,2886 345,2886 348,2886 351,2886 354,2886 357,2886 360,2886 363,2886 366,2886 369,2886 372,2886 375,2886 378,2886 381,2886 384,2886 387,2886 390,2886 393,2886 396,2886 399,2886 402,2886 405,2886 408,2886 411,2886 414,2886 417,2886 420,2886 423,2886 426,2886 429,2886 432,2886 435,2886 438,2886 441,2886 444,2886 447,2886 450,2886 453,2886 456,2886 459,2886 462,2886 465,2886 468,2886 471,2886 474,2886 477,2886 480,2886 483,2886 486,2886 489,2886 492,2886 495,2886 498,2886 501,2886 504,2886 507,2886 510,2886 513,2886 516,2886 519,2886 522,2886 525,2886 528,2886 531,2886 534,2886 537,2886 540,2886 543,2886 546,2886 549,2886 552,2886 555,2886 558,2886 561,2886 564,2886 567,2886 570,2886 573,2886 576,2886 579,2886 582,2886 585,2886 588,2886 591,2886 594,2886 597,2886 600,2886 603,2886 606,2886 609,2886 612,2886 615,2886 618,2886 621,2886 624,2886 627,2886 630,2886 633,2886 636,2886 639,2886 642,2886 645,2886 648,2886 651,2886 654,2886 657,2886 660,2886 663,2886 666,2886 669,2886 672,2886 675,2886 678,2886 681,2886 684,2886 687,2886 690,2886 693,2886 696,2886 699,2886 702,2886 705,2886 708,2886 711,2886 714,2886 717,2886 720,2886 723,2886 726,2886 729,2886 732,2886 735,2886 738,2886 741,2886 744,2886 747,2886 750,2886 753,2886 756,2886 759,2886 762,2886 765,2886 768,2886 771,2886 774,2886 777,2886 780,2886 783,2886 786,2886 789,2886 792,2886 795,2886 798,2886 801,2886 804,2886 807,2886 810,2886 813,2886 816,2886 819,2886 822,2886 825,2886 828,2886 831,2886 834,2886 837,2886 840,2886 843,2886 846,2886 849,2886 852,2886 855,2886 858,2886 861,2886 864,2886 867,2886 870,2886 873,2886 876,2886 879,2886 882,2886 885,2886 888,2886 891,2886 894,2886 897,2886 900,2886 903,2886 906,2886 909,2886 912,2886 915,2886 918,2886 921,2886 924,2886 927,2886 930,2886 933,2886 936,2886 939,2886 942,2886 945,2886 948,2886 951,2886 954,2886 957,2886 960,2886 963,2886 966,2886 969,2886 972,2886 975,2886 978,2886 981,2886 984,2886 987,2886 990,2886 993,2886 996,2886 999,2886 1002,2886 1005,2886 1008,2886 1011,2886 1014,2886 1017,2886 1020,2886 1023,2886 1026,2886 1029,2886 1032,2886 1035,2886 1038,2886 1041,2886 1044,2886 1047,2886 1050,2886 1053,2886 1056,2886 1059,2886 1062,2886 1065,2886 1068,2886 1071,2886 1074,2886 1077,2886 1080,2886 1083,2886 1086,2886 1089,2886 1092,2886 1095,2886 1098,2886 1101,2886 1104,2886 1107,2886 1110,2886 1113,2886 1116,2886 1119,2886 1122,2886 1125,2886 1128,2886 1131,2886 1134,2886 1137,2886 1140,2886 1143,2886 1146,2886 1149,2886 1152,2886 1155,2886 1158,2886 1161,2886 1164,2886 1167,2886 1170,2886 1173,2886 1176,2885.9 1179,2885.9 1182,2885.9 1185,2885.9 1188,2885.8 1191,2885.8 1194,2885.7 1197,2885.7 1200,2885.6 1203,2885.5 1206,2885.3 1209,2885.2 1212,2885 1215,2884.7 1218,2884.4 1221,2884.1 1224,2883.6 1227,2883.1 1230,2882.5 1233,2881.8 1236,2880.9 1239,2879.9 1242,2878.7 1245,2877.3 1248,2875.7 1251,2873.9 1254,2871.8 1257,2869.4 1260,2866.7 1263,2863.7 1266,2860.3 1269,2856.5 1272,2852.2 1275,2847.6 1278,2842.5 1281,2836.9 1284,2830.9 1287,2824.4 1290,2817.4 1293,2810 1296,2802.1 1299,2793.9 1302,2785.2 1305,2776.2 1308,2766.9 1311,2757.4 1314,2747.8 1317,2738 1320,2728.3 1323,2718.6 1326,2709.1 1329,2699.9 1332,2691.1 1335,2682.7 1338,2674.9 1341,2667.8 1344,2661.4 1347,2655.8 1350,2651 1353,2647.3 1356,2644.5 1359,2642.7 1362,2642 1365,2642.4 1368,2643.8 1371,2646.2 1374,2649.7 1377,2654.1 1380,2659.4 1383,2665.6 1386,2672.5 1389,2680.1 1392,2688.3 1395,2696.9 1398,2706 1401,2715.4 1404,2725 1407,2734.8 1410,2744.5 1413,2754.2 1416,2763.8 1419,2773.1 1422,2782.2 1425,2791 1428,2799.4 1431,2807.4 1434,2815 1437,2822.1 1440,2828.8 1443,2835 1446,2840.7 1449,2846 1452,2850.7 1455,2855.1 1458,2859 1461,2862.6 1464,2865.7 1467,2868.5 1470,2871 1473,2873.2 1476,2875.1 1479,2876.8 1482,2878.2 1485,2879.5 1488,2880.6 1491,2881.5 1494,2882.3 1497,2882.9 1500,2883.5 1503,2883.9 1506,2884.3 1509,2884.6 1512,2884.9 1515,2885.1 1518,2885.3 1521,2885.4 1524,2885.6 1527,2885.6 1530,2885.7 1533,2885.8 1536,2885.8 1539,2885.9 1542,2885.9 1545,2885.9 1548,2885.9 1551,2886 1554,2886 1557,2886 1560,2886 1563,2886 1566,2886 1569,2886 1572,2886 1575,2886 1578,2886 1581,2886 1584,2886 1587,2886 1590,2886 1593,2886 1596,2886 1599,2886 1602,2886 1605,2886 1608,2886 1611,2886 1614,2886 1617,2886 1620,2886 1623,2886 1626,2886 1629,2886 1632,2886 1635,2886 1638,2886 1641,2886 1644,2886 1647,2886 1650,2886 1653,2886 1656,2886 1659,2886 1662,2886 1665,2886 1668,2886 1671,2886 1674,2886 1677,2886 1680,2886 1683,2886 1686,2886 1689,2886 1692,2886 1695,2886 1698,2886 1701,2886 1704,2886 1707,2886 1710,2886 1713,2886 1716,2886 1719,2886 1722,2886 1725,2886 1728,2886 1731,2886 1734,2886 1737,2886 1740,2886 1743,2886 1746,2886 1749,2886 1752,2886 1755,2886 1758,2886 1761,2886 1764,2886 1767,2886 1770,2886 1773,2886 1776,2886 1779,2886 1782,2886 1785,2886 1788,2886 1791,2886 1794,2886 1797,2886 1800,2886 1803,2886 1806,2886 1809,2886 1812,2886 1815,2886 1818,2886 1821,2886 1824,2886 1827,2886" fill="none" stroke="#f00" stroke-width="9" stroke-linejoin="round"/>
<polyline points="168,2886 171,2886 174,2886 177,2886 180,2886 183,2886 186,2886 189,2886 192,2886 195,2886 198,2886 201,2886 204,2886 207,2886 210,2886 213,2886 216,2886 219,2886 222,2886 225,2886 228,2886 231,2886 234,2886 237,2886 240,2886 243,2886 246,2886 249,2886 252,2886 255,2886 258,2886 261,2886 264,2886 267,2886 270,2886 273,2886 276,2886 279,2886 282,2886 285,2886 288,2886 291,2886 294,2886 297,2886 300,2886 303,2886 306,2886 309,2886 312,2886 315,2886 318,2886 321,2886 324,2886 327,2886 330,2886 333,2886 336,2886 339,2886 342,2886 345,2886 348,2886 351,2886 354,2886 357,2886 360,2886 363,2886 366,2886 369,2886 372,2886 375,2886 378,2886 381,2886 384,2886 387,2886 390,2886 393,2886 396,2886 399,2886 402,2886 405,2886 408,2886 411,2886 414,2886 417,2886 420,2886 423,2886 426,2886 429,2886 432,2886 435,2886 438,2886 441,2886 444,2886 447,2886 450,2886 453,2886 456,2886 459,2886 462,2886 465,2886 468,2886 471,2886 474,2886 477,2886 480,2886 483,2886 486,2886 489,2886 492,2886 495,2886 498,2886 501,2886 504,2886 507,2886 510,2886 513,2886 516,2886 519,2886 522,2886 525,2886 528,2886 531,2886 534,2886 537,2886 540,2886 543,2886 546,2886 549,2886 552,2886 555,2886 558,2886 561,2886 564,2886 567,2886 570,2886 573,2886 576,2886 579,2886 582,2886 585,2886 588,2886 591,2886 594,2886 597,2886 600,2886 603,2886 606,2886 609,2886 612,2886 615,2886 618,2886 621,2886 624,2886 627,2886 630,2886 633,2886 636,2886 639,2886 642,2886 645,2886 648,2886 651,2886 654,2886 657,2886 660,2886 663,2886 666,2886 669,2886 672,2886 675,2886 678,2886 681,2886 684,2886 687,2886 690,2886 693,2886 696,2886 699,2886 702,2886 705,2886 708,2886 711,2886 714,2886 717,2886 720,2886 723,2886 726,2886 729,2886 732,2886 735,2886 738,2886 741,2886 744,2886 747,2885.9 750,2885.9 753,2885.9 756,2885.9 759,2885.9 762,2885.8 765,2885.8 768,2885.7 771,2885.7 774,2885.6 777,2885.5 780,2885.4 783,2885.2 786,2885.1 789,2884.8 792,2884.6 795,2884.3 798,2884 801,2883.5 804,2883.1 807,2882.5 810,2881.8 813,2881 816,2880.1 819,2879.1 822,2877.8 825,2876.4 828,2874.8 831,2872.9 834,2870.8 837,2868.3 840,2865.6 843,2862.4 846,2858.9 849,2855 852,2850.5 855,2845.6 858,2840.1 861,2834 864,2827.3 867,2819.9 870,2811.8 873,2803 876,2793.4 879,2783 882,2771.7 885,2759.6 888,2746.6 891,2732.8 894,2718.1 897,2702.5 900,2686.1 903,2668.8 906,2650.7 909,2632 912,2612.5 915,2592.4 918,2571.7 921,2550.6 924,2529.2 927,2507.5 930,2485.7 933,2463.9 936,2442.2 939,2420.8 942,2399.8 945,2379.4 948,2359.7 951,2340.8 954,2322.9 957,2306.2 960,2290.8 963,2276.7 966,2264.2 969,2253.3 972,2244.2 975,2236.8 978,2231.3 981,2227.7 984,2226.1 987,2226.4 990,2228.7 993,2232.9 996,2239.1 999,2247 1002,2256.8 1005,2268.2 1008,2281.3 1011,2295.8 1014,2311.7 1017,2328.8 1020,2347 1023,2366.1 1026,2386.1 1029,2406.7 1032,2427.9 1035,2449.4 1038,2471.1 1041,2493 1044,2514.8 1047,2536.4 1050,2557.7 1053,2578.7 1056,2599.1 1059,2619 1062,2638.3 1065,2656.8 1068,2674.6 1071,2691.6 1074,2707.8 1077,2723.1 1080,2737.5 1083,2751.1 1086,2763.7 1089,2775.6 1092,2786.5 1095,2796.7 1098,2806 1101,2814.6 1104,2822.5 1107,2829.6 1110,2836.1 1113,2842 1116,2847.3 1119,2852.1 1122,2856.3 1125,2860.1 1128,2863.5 1131,2866.5 1134,2869.2 1137,2871.5 1140,2873.6 1143,2875.3 1146,2876.9 1149,2878.3 1152,2879.4 1155,2880.4 1158,2881.3 1161,2882.1 1164,2882.7 1167,2883.2 1170,2883.7 1173,2884.1 1176,2884.4 1179,2884.7 1182,2884.9 1185,2885.1 1188,2885.3 1191,2885.4 1194,2885.5 1197,2885.6 1200,2885.7 1203,2885.7 1206,2885.8 1209,2885.8 1212,2885.9 1215,2885.9 1218,2885.9 1221,2885.9 1224,2885.9 1227,2886 1230,2886 1233,2886 1236,2886 1239,2886 1242,2886 1245,2886 1248,2886 1251,2886 1254,2886 1257,2886 1260,2886 1263,2886 1266,2886 1269,2886 1272,2886 1275,2886 1278,2886 1281,2886 1284,2886 1287,2886 1290,2886 1293,2886 1296,2886 1299,2886 1302,2886 1305,2886 1308,2886 1311,2886 1314,2886 1317,2886 1320,2886 1323,2886 1326,2886 1329,2886 1332,2886 1335,2886 1338,2886 1341,2886 1344,2886 1347,2886 1350,2886 1353,2886 1356,2886 1359,2886 1362,2886 1365,2886 1368,2886 1371,2886 1374,2886 1377,2886 1380,2886 1383,2886 1386,2886 1389,2886 1392,2886 1395,2886 1398,2886 1401,2886 1404,2886 1407,2886 1410,2886 1413,2886 1416,2886 1419,2886 1422,2886 1425,2886 1428,2886 1431,2886 1434,2886 1437,2886 1440,2886 1443,2886 1446,2886 1449,2886 1452,2886 1455,2886 1458,2886 1461,2886 1464,2886 1467,2886 1470,2886 1473,2886 1476,2886 1479,2886 1482,2886 1485,2886 1488,2886 1491,2886 1494,2886 1497,2886 1500,2886 1503,2886 1506,2886 1509,2886 1512,2886 1515,2886 1518,2886 1521,2886 1524,2886 1527,2886 1530,2886 1533,2886 1536,2886 1539,2886 1542,2886 1545,2886 1548,2886 1551,2886 1554,2886 1557,2886 1560,2886 1563,2886 1566,2886 1569,2886 1572,2886 1575,2886 1578,2886 1581,2886 1584,2886 1587,2886 1590,2886 1593,2886 1596,2886 1599,2886 1602,2886 1605,2886 1608,2886 1611,2886 1614,2886 1617,2886 1620,2886 1623,2886 1626,2886 1629,2886 1632,2886 1635,2886 1638,2886 1641,2886 1644,2886 1647,2886 1650,2886 1653,2886 1656,2886 1659,2886 1662,2886 1665,2886 1668,2886 1671,2886 1674,2886 1677,2886 1680,2886 1683,2886 1686,2886 1689,2886 1692,2886 1695,2886 1698,2886 1701,2886 1704,2886 1707,2886 1710,2886 1713,2886 1716,2886 1719,2886 1722,2886 1725,2886 1728,2886 1731,2886 1734,2886 1737,2886 1740,2886 1743,2886 1746,2886 1749,2886 1752,2886 1755,2886 1758,2886 1761,2886 1764,2886 1767,2886 1770,2886 1773,2886 1776,2886 1779,2886 1782,2886 1785,2886 1788,2886 1791,2886 1794,2886 1797,2886 1800,2886 1803,2886 1806,2886 1809,2886 1812,2886 1815,2886 1818,2886 1821,2886 1824,2886 1827,2886" fill="none" stroke="#00f" stroke-width="9" stroke-linejoin="round"/>
<polyline points="168,2886 171,2886 174,2886 177,2886 180,2886 183,2886 186,2886 189,2886 192,2886 195,2886 198,2886 201,2886 204,2886 207,2886 210,2886 213,2886 216,2886 219,2886 222,2886 225,2886 228,2886 231,2886 234,2886 237,2886 240,2886 243,2886 246,2886 249,2886 252,2886 255,2886 258,2886 261,2886 264,2886 267,2886 270,2886 273,2886 276,2886 279,2886 282,2886 285,2886 288,2886 291,2886 294,2886 297,2886 300,2886 303,2886 306,2886 309,2886 312,2886 315,2886 318,2886 321,2886 324,2886 327,2886 330,2886 333,2886 336,2886 339,2886 342,2886 345,2886 348,2886 351,2886 354,2886 357,2886 360,2886 363,2886 366,2886 369,2886 372,2886 375,2886 378,2886 381,2886 384,2886 387,2886 390,2886 393,2886 396,2886 399,2886 402,2886 405,2886 408,2886 411,2886 414,2886 417,2886 420,2886 423,2886 426,2886 429,2886 432,2886 435,2886 438,2886 441,2886 444,2886 447,2886 450,2886 453,2886 456,2886 459,2886 462,2886 465,2886 468,2886 471,2886 474,2886 477,2886 480,2886 483,2886 486,2886 489,2886 492,2886 495,2886 498,2886 501,2886 504,2886 507,2886 510,2886 513,2886 516,2886 519,2886 522,2886 525,2886 528,2886 531,2886 534,2886 537,2886 540,2886 543,2886 546,2886 549,2886 552,2886 555,2886 558,2886 561,2886 564,2886 567,2886 570,2886 573,2886 576,2886 579,2886 582,2886 585,2886 588,2886 591,2886 594,2886 597,2886 600,2886 603,2886 606,2886 609,2886 612,2886 615,2886 618,2886 621,2886 624,2886 627,2886 630,2886 633,2886 636,2886 639,2886 642,2886 645,2886 648,2886 651,2886 654,2886 657,2886 660,2886 663,2886 666,2886 669,2886 672,2886 675,2886 678,2886 681,2886 684,2886 687,2886 690,2886 693,2886 696,2886 699,2886 702,2886 705,2886 708,2886 711,2886 714,2886 717,2886 720,2886 723,2886 726,2886 729,2886 732,2886 735,2886 738,2886 741,2886 744,2886 747,2886 750,2886 753,2886 756,2886 759,2886 762,2886 765,2886 768,2886 771,2886 774,2886 777,2886 780,2886 783,2886 786,2886 789,2886 792,2886 795,2886 798,2886 801,2886 804,2886 807,2886 810,2886 813,2886 816,2886 819,2886 822,2886 825,2886 828,2886 831,2886 834,2886 837,2886 840,2886 843,2885.9 846,2885.9 849,2885.9 852,2885.9 855,2885.8 858,2885.8 861,2885.8 864,2885.7 867,2885.6 870,2885.6 873,2885.5 876,2885.4 879,2885.2 882,2885 885,2884.8 888,2884.6 891,2884.3 894,2884 897,2883.6 900,2883.2 903,2882.6 906,2882 909,2881.3 912,2880.5 915,2879.5 918,2878.5 921,2877.2 924,2875.8 927,2874.2 930,2872.4 933,2870.4 936,2868.1 939,2865.5 942,2862.6 945,2859.4 948,2855.9 951,2852 954,2847.8 957,2843.1 960,2838 963,2832.5 966,2826.5 969,2820.1 972,2813.2 975,2805.8 978,2797.9 981,2789.5 984,2780.7 987,2771.4 990,2761.7 993,2751.6 996,2741.2 999,2730.3 1002,2719.2 1005,2707.9 1008,2696.4 1011,2684.7 1014,2673 1017,2661.3 1020,2649.6 1023,2638.2 1026,2627 1029,2616.1 1032,2605.6 1035,2595.6 1038,2586.2 1041,2577.5 1044,2569.4 1047,2562.2 1050,2555.8 1053,2550.3 1056,2545.8 1059,2542.3 1062,2539.8 1065,2538.4 1068,2538 1071,2538.7 1074,2540.5 1077,2543.3 1080,2547.2 1083,2552 1086,2557.8 1089,2564.5 1092,2572 1095,2580.3 1098,2589.3 1101,2598.9 1104,2609.1 1107,2619.7 1110,2630.7 1113,2642 1116,2653.5 1119,2665.2 1122,2676.9 1125,2688.6 1128,2700.2 1131,2711.7 1134,2723 1137,2734 1140,2744.7 1143,2755.1 1146,2765 1149,2774.6 1152,2783.7 1155,2792.4 1158,2800.6 1161,2808.3 1164,2815.5 1167,2822.3 1170,2828.6 1173,2834.4 1176,2839.8 1179,2844.7 1182,2849.2 1185,2853.4 1188,2857.1 1191,2860.5 1194,2863.6 1197,2866.4 1200,2868.9 1203,2871.1 1206,2873 1209,2874.8 1212,2876.3 1215,2877.7 1218,2878.8 1221,2879.9 1224,2880.8 1227,2881.6 1230,2882.2 1233,2882.8 1236,2883.3 1239,2883.8 1242,2884.1 1245,2884.4 1248,2884.7 1251,2884.9 1254,2885.1 1257,2885.3 1260,2885.4 1263,2885.5 1266,2885.6 1269,2885.7 1272,2885.7 1275,2885.8 1278,2885.8 1281,2885.9 1284,2885.9 1287,2885.9 1290,2885.9 1293,2885.9 1296,2886 1299,2886 1302,2886 1305,2886 1308,2886 1311,2886 1314,2886 1317,2886 1320,2886 1323,2886 1326,2886 1329,2886 1332,2886 1335,2886 1338,2886 1341,2886 1344,2886 1347,2886 1350,2886 1353,2886 1356,2886 1359,2886 1362,2886 1365,2886 1368,2886 1371,2886 1374,2886 1377,2886 1380,2886 1383,2886 1386,2886 1389,2886 1392,2886 1395,2886 1398,2886 1401,2886 1404,2886 1407,2886 1410,2886 1413,2886 1416,2886 1419,2886 1422,2886 1425,2886 1428,2886 1431,2886 1434,2886 1437,2886 1440,2886 1443,2886 1446,2886 1449,2886 1452,2886 1455,2886 1458,2886 1461,2886 1464,2886 1467,2886 1470,2886 1473,2886 1476,2886 1479,2886 1482,2886 1485,2886 1488,2886 1491,2886 1494,2886 1497,2886 1500,2886 1503,2886 1506,2886 1509,2886 1512,2886 1515,2886 1518,2886 1521,2886 1524,2886 1527,2886 1530,2886 1533,2886 1536,2886 1539,2886 1542,2886 1545,2886 1548,2886 1551,2886 1554,2886 1557,2886 1560,2886 1563,2886 1566,2886 1569,2886 1572,2886 1575,2886 1578,2886 1581,2886 1584,2886 1587,2886 1590,2886 1593,2886 1596,2886 1599,2886 1602,2886 1605,2886 1608,2886 1611,2886 1614,2886 1617,2886 1620,2886 1623,2886 1626,2886 1629,2886 1632,2886 1635,2886 1638,2886 1641,2886 1644,2886 1647,2886 1650,2886 1653,2886 1656,2886 1659,2886 1662,2886 1665,2886 1668,2886 1671,2886 1674,2886 1677,2886 1680,2886 1683,2886 1686,2886 1689,2886 1692,2886 1695,2886 1698,2886 1701,2886 1704,2886 1707,2886 1710,2886 1713,2886 1716,2886 1719,2886 1722,2886 1725,2886 1728,2886 1731,2886 1734,2886 1737,2886 1740,2886 1743,2886 1746,2886 1749,2886 1752,2886 1755,2886 1758,2886 1761,2886 1764,2886 1767,2886 1770,2886 1773,2886 1776,2886 1779,2886 1782,2886 1785,2886 1788,2886 1791,2886 1794,2886 1797,2886 1800,2886 1803,2886 1806,2886 1809,2886 1812,2886 1815,2886 1818,2886 1821,2886 1824,2886 1827,2886" fill="none" stroke="#00f" stroke-width="9" stroke-linejoin="round"/>
<polyline points="168,2886 171,2886 174,2886 177,2886 180,2886 183,2886 186,2886 189,2886 192,2886 195,2886 198,2886 201,2886 204,2886 207,2886 210,2886 213,2886 216,2886 219,2886 222,2886 225,2886 228,2886 231,2886 234,2886 237,2886 240,2886 243,2886 246,2886 249,2886 252,2886 255,2886 258,2886 261,2886 264,2886 267,2886 270,2886 273,2886 276,2886 279,2886 282,2886 285,2886 288,2886 291,2886 294,2886 297,2886 300,2886 303,2886 306,2886 309,2886 312,2886 315,2886 318,2886 321,2886 324,2886 327,2886 330,2886 333,2886 336,2886 339,2886 342,2886 345,2886 348,2886 351,2886 354,2886 357,2886 360,2886 363,2886 366,2886 369,2886 372,2886 375,2886 378,2886 381,2886 384,2886 387,2886 390,2886 393,2886 396,2886 399,2886 402,2886 405,2886 408,2886 411,2886 414,2886 417,2886 420,2886 423,2886 426,2886 429,2886 432,2886 435,2886 438,2886 441,2886 444,2886 447,2886 450,2886 453,2886 456,2886 459,2886 462,2886 465,2886 468,2886 471,2886 474,2886 477,2886 480,2886 483,2886 486,2886 489,2886 492,2886 495,2886 498,2886 501,2886 504,2886 507,2886 510,2886 513,2886 516,2886 519,2886 522,2886 525,2886 528,2886 531,2886 534,2886 537,2886 540,2886 543,2886 546,2886 549,2886 552,2886 555,2886 558,2886 561,2886 564,2886 567,2886 570,2886 573,2886 576,2886 579,2886 582,2886 585,2886 588,2886 591,2886 594,2886 597,2886 600,2886 603,2886 606,2886 609,2886 612,2886 615,2886 618,2886 621,2886 624,2886 627,2886 630,2886 633,2886 636,2886 639,2886 642,2886 645,2886 648,2886 651,2886 654,2886 657,2886 660,2886 663,2886 666,2886 669,2886 672,2886 675,2886 678,2886 681,2886 684,2886 687,2886 690,2886 693,2886 696,2886 699,2886 702,2886 705,2886 708,2886 711,2886 714,2886 717,2886 720,2886 723,2886 726,2886 729,2886 732,2885.9 735,2885.9 738,2885.9 741,2885.9 744,2885.8 747,2885.8 750,2885.7 753,2885.7 756,2885.6 759,2885.5 762,2885.4 765,2885.2 768,2885 771,2884.8 774,2884.5 777,2884.2 780,2883.8 783,2883.4 786,2882.9 789,2882.3 792,2881.6 795,2880.8 798,2879.9 801,2878.8 804,2877.6 807,2876.3 810,2874.8 813,2873.1 816,2871.3 819,2869.3 822,2867 825,2864.6 828,2862 831,2859.2 834,2856.2 837,2853 840,2849.7 843,2846.2 846,2842.5 849,2838.7 852,2834.9 855,2831 858,2827.1 861,2823.2 864,2819.3 867,2815.5 870,2811.9 873,2808.4 876,2805.2 879,2802.2 882,2799.5 885,2797.1 888,2795.1 891,2793.4 894,2792.2 897,2791.4 900,2791 903,2791.1 906,2791.6 909,2792.6 912,2793.9 915,2795.7 918,2797.8 921,2800.3 924,2803.1 927,2806.2 930,2809.5 933,2813.1 936,2816.8 939,2820.6 942,2824.5 945,2828.4 948,2832.3 951,2836.2 954,2840 957,2843.7 960,2847.3 963,2850.8 966,2854.1 969,2857.2 972,2860.2 975,2862.9 978,2865.5 981,2867.8 984,2870 987,2871.9 990,2873.7 993,2875.3 996,2876.8 999,2878 1002,2879.2 1005,2880.2 1008,2881.1 1011,2881.8 1014,2882.5 1017,2883.1 1020,2883.5 1023,2884 1026,2884.3 1029,2884.6 1032,2884.9 1035,2885.1 1038,2885.3 1041,2885.4 1044,2885.5 1047,2885.6 1050,2885.7 1053,2885.8 1056,2885.8 1059,2885.8 1062,2885.9 1065,2885.9 1068,2885.9 1071,2885.9 1074,2886 1077,2886 1080,2886 1083,2886 1086,2886 1089,2886 1092,2886 1095,2886 1098,2886 1101,2886 1104,2886 1107,2886 1110,2886 1113,2886 1116,2886 1119,2886 1122,2886 1125,2886 1128,2886 1131,2886 1134,2886 1137,2886 1140,2886 1143,2886 1146,2886 1149,2886 1152,2886 1155,2886 1158,2886 1161,2886 1164,2886 1167,2886 1170,2886 1173,2886 1176,2886 1179,2886 1182,2886 1185,2886 1188,2886 1191,2886 1194,2886 1197,2886 1200,2886 1203,2886 1206,2886 1209,2886 1212,2886 1215,2886 1218,2886 1221,2886 1224,2886 1227,2886 1230,2886 1233,2886 1236,2886 1239,2886 1242,2886 1245,2886 1248,2886 1251,2886 1254,2886 1257,2886 1260,2886 1263,2886 1266,2886 1269,2886 1272,2886 1275,2886 1278,2886 1281,2886 1284,2886 1287,2886 1290,2886 1293,2886 1296,2886 1299,2886 1302,2886 1305,2886 1308,2886 1311,2886 1314,2886 1317,2886 1320,2886 1323,2886 1326,2886 1329,2886 1332,2886 1335,2886 1338,2886 1341,2886 1344,2886 1347,2886 1350,2886 1353,2886 1356,2886 1359,2886 1362,2886 1365,2886 1368,2886 1371,2886 1374,2886 1377,2886 1380,2886 1383,2886 1386,2886 1389,2886 1392,2886 1395,2886 1398,2886 1401,2886 1404,2886 1407,2886 1410,2886 1413,2886 1416,2886 1419,2886 1422,2886 1425,2886 1428,2886 1431,2886 1434,2886 1437,2886 1440,2886 1443,2886 1446,2886 1449,2886 1452,2886 1455,2886 1458,2886 1461,2886 1464,2886 1467,2886 1470,2886 1473,2886 1476,2886 1479,2886 1482,2886 1485,2886 1488,2886 1491,2886 1494,2886 1497,2886 1500,2886 1503,2886 1506,2886 1509,2886 1512,2886 1515,2886 1518,2886 1521,2886 1524,2886 1527,2886 1530,2886 1533,2886 1536,2886 1539,2886 1542,2886 1545,2886 1548,2886 1551,2886 1554,2886 1557,2886 1560,2886 1563,2886 1566,2886 1569,2886 1572,2886 1575,2886 1578,2886 1581,2886 1584,2886 1587,2886 1590,2886 1593,2886 1596,2886 1599,2886 1602,2886 1605,2886 1608,2886 1611,2886 1614,2886 1617,2886 1620,2886 1623,2886 1626,2886 1629,2886 1632,2886 1635,2886 1638,2886 1641,2886 1644,2886 1647,2886 1650,2886 1653,2886 1656,2886 1659,2886 1662,2886 1665,2886 1668,2886 1671,2886 1674,2886 1677,2886 1680,2886 1683,2886 1686,2886 1689,2886 1692,2886 1695,2886 1698,2886 1701,2886 1704,2886 1707,2886 1710,2886 1713,2886 1716,2886 1719,2886 1722,2886 1725,2886 1728,2886 1731,2886 1734,2886 1737,2886 1740,2886 1743,2886 1746,2886 1749,2886 1752,2886 1755,2886 1758,2886 1761,2886 1764,2886 1767,2886 1770,2886 1773,2886 1776,2886 1779,2886 1782,2886 1785,2886 1788,2886 1791,2886 1794,2886 1797,2886 1800,2886 1803,2886 1806,2886 1809,2886 1812,2886 1815,2886 1818,2886 1821,2886 1824,2886 1827,2886" fill="none" stroke="#00f" stroke-width="9" stroke-linejoin="round"/>
<polyline points="168,2886 170,2886 172,2886 174,2886 176,2886 178,2886 180,2886 182,2886 184,2886 186,2886 188,2886 190,2886 192,2886 194,2886 196,2886 198,2886 200,2886 202,2886 204,2886 206,2886 208,2886 210,2886 212,2886 214,2886 216,2886 218,2886 220,2886 222,2886 224,2886 226,2886 228,2886 230,2886 232,2886 234,2886 236,2886 238,2886 240,2886 242,2886 244,2886 246,2886 248,2886 250,2886 252,2886 254,2886 256,2886 258,2886 260,2886 262,2886 264,2886 266,2886 268,2886 270,2886 272,2886 274,2886 276,2886 278,2886 280,2886 282,2886 284,2886 286,2886 288,2886 290,2886 292,2886 294,2886 296,2886 298,2886 300,2886 302,2886 304,2886 306,2886 308,2886 310,2886 312,2886 314,2886 316,2886 318,2886 320,2886 322,2886 324,2886 326,2886 328,2886 330,2886 332,2886 334,2886 336,2886 338,2886 340,2886 342,2886 344,2886 346,2886 348,2886 350,2886 352,2886 354,2886 356,2886 358,2886 360,2886 362,2886 364,2886 366,2886 368,2886 370,2886 372,2886 374,2886 376,2886 378,2886 380,2886 382,2886 384,2886 386,2886 388,2886 390,2886 392,2886 394,2886 396,2886 398,2886 400,2886 402,2886 404,2886 406,2886 408,2886 410,2886 412,2886 414,2886 416,2886 418,2886 420,2886 422,2886 424,2886 426,2886 428,2886 430,2886 432,2886 434,2886 436,2886 438,2886 440,2886 442,2886 444,2886 446,2886 448,2886 450,2886 452,2886 454,2886 456,2886 458,2886 460,2886 462,2886 464,2886 466,2886 468,2886 470,2886 472,2886 474,2886 476,2886 478,2886 480,2886 482,2886 484,2886 486,2886 488,2886 490,2886 492,2886 494,2886 496,2886 498,2886 500,2886 502,2886 504,2886 506,2886 508,2886 510,2886 512,2886 514,2886 516,2886 518,2886 520,2886 522,2886 524,2886 526,2886 528,2886 530,2886 532,2886 534,2886 536,2886 538,2886 540,2886 542,2886 544,2886 546,2886 548,2886 550,2886 552,2886 554,2886 556,2886 558,2886 560,2886 562,2886 564,2886 566,2886 568,2886 570,2886 572,2886 574,2886 576,2886 578,2886 580,2886 582,2886 584,2886 586,2886 588,2886 590,2886 592,2886 594,2886 596,2886 598,2886 600,2886 602,2886 604,2886 606,2886 608,2886 610,2886 612,2886 614,2886 616,2886 618,2886 620,2886 622,2886 624,2886 626,2886 628,2886 630,2886 632,2886 634,2886 636,2886 638,2886 640,2886 642,2886 644,2886 646,2886 648,2886 650,2886 652,2886 654,2886 656,2886 658,2886 660,2886 662,2886 664,2886 666,2886 668,2886 670,2886 672,2886 674,2886 676,2886 678,2886 680,2886 682,2886 684,2886 686,2886 688,2886 690,2886 692,2886 694,2886 696,2886 698,2886 700,2886 702,2886 704,2886 706,2886 708,2886 710,2886 712,2886 714,2886 716,2886 718,2886 720,2886 722,2886 724,2886 726,2886 728,2885.9 730,2885.9 732,2885.9 734,2885.9 736,2885.9 738,2885.9 740,2885.9 742,2885.8 744,2885.8 746,2885.8 748,2885.7 750,2885.7 752,2885.6 754,2885.5 756,2885.5 758,2885.4 760,2885.3 762,2885.2 764,2885 766,2884.9 768,2884.7 770,2884.6 772,2884.3 774,2884.1 776,2883.8 778,2883.5 780,2883.2 782,2882.8 784,2882.4 786,2881.9 788,2881.4 790,2880.8 792,2880.2 794,2879.5 796,2878.7 798,2877.8 800,2876.9 802,2875.8 804,2874.7 806,2873.5 808,2872.1 810,2870.6 812,2869 814,2867.3 816,2865.4 818,2863.4 820,2861.2 822,2858.9 824,2856.3 826,2853.7 828,2850.8 830,2847.7 832,2844.4 834,2840.9 836,2837.2 838,2833.3 840,2829.2 842,2824.8 844,2820.2 846,2815.4 848,2810.3 850,2804.9 852,2799.3 854,2793.5 856,2787.4 858,2781 860,2774.4 862,2767.5 864,2760.3 866,2752.9 868,2745.2 870,2737.3 872,2729.1 874,2720.6 876,2711.9 878,2702.9 880,2693.7 882,2684.2 884,2674.5 886,2664.5 888,2654.3 890,2643.9 892,2633.2 894,2622.3 896,2611.2 898,2599.8 900,2588.2 902,2576.5 904,2564.5 906,2552.4 908,2540.1 910,2527.5 912,2514.9 914,2502.1 916,2489.1 918,2476 920,2462.8 922,2449.5 924,2436.1 926,2422.7 928,2409.2 930,2395.6 932,2382.1 934,2368.5 936,2355 938,2341.6 940,2328.2 942,2314.9 944,2301.7 946,2288.7 948,2275.9 950,2263.3 952,2250.9 954,2238.7 956,2226.9 958,2215.3 960,2204.1 962,2193.3 964,2182.9 966,2172.8 968,2163.3 970,2154.1 972,2145.5 974,2137.4 976,2129.7 978,2122.7 980,2116.1 982,2110.2 984,2104.8 986,2100 988,2095.8 990,2092.2 992,2089.2 994,2086.8 996,2085 998,2083.8 1000,2083.2 1002,2083.2 1004,2083.8 1006,2084.9 1008,2086.7 1010,2089 1012,2091.8 1014,2095.1 1016,2099 1018,2103.3 1020,2108.2 1022,2113.5 1024,2119.2 1026,2125.4 1028,2132 1030,2139 1032,2146.4 1034,2154.1 1036,2162.2 1038,2170.6 1040,2179.4 1042,2188.4 1044,2197.7 1046,2207.3 1048,2217.1 1050,2227.2 1052,2237.5 1054,2248 1056,2258.7 1058,2269.6 1060,2280.7 1062,2292 1064,2303.4 1066,2314.9 1068,2326.6 1070,2338.4 1072,2350.3 1074,2362.3 1076,2374.3 1078,2386.5 1080,2398.7 1082,2410.9 1084,2423.2 1086,2435.6 1088,2447.9 1090,2460.2 1092,2472.6 1094,2484.9 1096,2497.1 1098,2509.3 1100,2521.5 1102,2533.6 1104,2545.5 1106,2557.4 1108,2569.2 1110,2580.8 1112,2592.3 1114,2603.6 1116,2614.8 1118,2625.8 1120,2636.6 1122,2647.2 1124,2657.6 1126,2667.8 1128,2677.7 1130,2687.5 1132,2696.9 1134,2706.1 1136,2715.1 1138,2723.8 1140,2732.2 1142,2740.4 1144,2748.3 1146,2755.9 1148,2763.3 1150,2770.3 1152,2777.1 1154,2783.6 1156,2789.9 1158,2795.9 1160,2801.6 1162,2807 1164,2812.2 1166,2817.1 1168,2821.8 1170,2826.2 1172,2830.4 1174,2834.4 1176,2838.1 1178,2841.6 1180,2845 1182,2848.1 1184,2851 1186,2853.7 1188,2856.2 1190,2858.6 1192,2860.8 1194,2862.9 1196,2864.8 1198,2866.5 1200,2868.1 1202,2869.6 1204,2870.9 1206,2872.1 1208,2873.2 1210,2874.2 1212,2875.1 1214,2875.8 1216,2876.5 1218,2877.1 1220,2877.5 1222,2877.9 1224,2878.2 1226,2878.4 1228,2878.5 1230,2878.4 1232,2878.3 1234,2878.1 1236,2877.8 1238,2877.4 1240,2876.9 1242,2876.2 1244,2875.4 1246,2874.6 1248,2873.5 1250,2872.4 1252,2871.1 1254,2869.6 1256,2868 1258,2866.2 1260,2864.2 1262,2862 1264,2859.7 1266,2857.1 1268,2854.3 1270,2851.3 1272,2848.1 1274,2844.6 1276,2840.8 1278,2836.8 1280,2832.5 1282,2828 1284,2823.1 1286,2818 1288,2812.5 1290,2806.7 1292,2800.7 1294,2794.3 1296,2787.6 1298,2780.6 1300,2773.2 1302,2765.6 1304,2757.6 1306,2749.3 1308,2740.7 1310,2731.8 1312,2722.7 1314,2713.2 1316,2703.4 1318,2693.4 1320,2683.2 1322,2672.6 1324,2661.9 1326,2650.9 1328,2639.7 1330,2628.4 1332,2616.8 1334,2605.1 1336,2593.2 1338,2581.1 1340,2569 1342,2556.7 1344,2544.3 1346,2531.8 1348,2519.2 1350,2506.5 1352,2493.7 1354,2480.9 1356,2468 1358,2455 1360,2442 1362,2428.9 1364,2415.7 1366,2402.5 1368,2389.2 1370,2375.8 1372,2362.4 1374,2348.9 1376,2335.2 1378,2321.5 1380,2307.8 1382,2293.9 1384,2279.9 1386,2265.8 1388,2251.6 1390,2237.3 1392,2222.9 1394,2208.4 1396,2193.8 1398,2179.1 1400,2164.3 1402,2149.4 1404,2134.5 1406,2119.5 1408,2104.4 1410,2089.4 1412,2074.3 1414,2059.3 1416,2044.3 1418,2029.4 1420,2014.6 1422,2000 1424,1985.5 1426,1971.2 1428,1957.1 1430,1943.3 1432,1929.7 1434,1916.5 1436,1903.7 1438,1891.3 1440,1879.3 1442,1867.8 1444,1856.8 1446,1846.3 1448,1836.5 1450,1827.1 1452,1818.5 1454,1810.4 1456,1803.1 1458,1796.4 1460,1790.5 1462,1785.3 1464,1780.8 1466,1777 1468,1774.1 1470,1771.9 1472,1770.5 1474,1769.8 1476,1769.9 1478,1770.8 1480,1772.4 1482,1774.8 1484,1778 1486,1781.8 1488,1786.4 1490,1791.6 1492,1797.6 1494,1804.2 1496,1811.4 1498,1819.3 1500,1827.7 1502,1836.8 1504,1846.3 1506,1856.4 1508,1867 1510,1878.1 1512,1889.6 1514,1901.6 1516,1913.9 1518,1926.7 1520,1939.8 1522,1953.2 1524,1966.9 1526,1980.9 1528,1995.2 1530,2009.7 1532,2024.5 1534,2039.4 1536,2054.6 1538,2069.9 1540,2085.3 1542,2100.9 1544,2116.6 1546,2132.4 1548,2148.2 1550,2164.1 1552,2180.1 1554,2196.1 1556,2212.2 1558,2228.2 1560,2244.2 1562,2260.2 1564,2276.2 1566,2292.1 1568,2307.9 1570,2323.7 1572,2339.4 1574,2355 1576,2370.5 1578,2385.8 1580,2401.1 1582,2416.2 1584,2431.1 1586,2445.8 1588,2460.4 1590,2474.8 1592,2489 1594,2503 1596,2516.8 1598,2530.3 1600,2543.6 1602,2556.7 1604,2569.5 1606,2582 1608,2594.3 1610,2606.3 1612,2618.1 1614,2629.5 1616,2640.7 1618,2651.6 1620,2662.2 1622,2672.5 1624,2682.5 1626,2692.2 1628,2701.6 1630,2710.7 1632,2719.5 1634,2728 1636,2736.2 1638,2744.1 1640,2751.7 1642,2759 1644,2766 1646,2772.8 1648,2779.2 1650,2785.4 1652,2791.3 1654,2797 1656,2802.4 1658,2807.5 1660,2812.4 1662,2817.1 1664,2821.5 1666,2825.7 1668,2829.7 1670,2833.4 1672,2837 1674,2840.4 1676,2843.5 1678,2846.5 1680,2849.3 1682,2852 1684,2854.5 1686,2856.8 1688,2859 1690,2861.1 1692,2863 1694,2864.8 1696,2866.4 1698,2868 1700,2869.4 1702,2870.8 1704,2872 1706,2873.2 1708,2874.3 1710,2875.3 1712,2876.2 1714,2877 1716,2877.8 1718,2878.6 1720,2879.2 1722,2879.8 1724,2880.4 1726,2880.9 1728,2881.4 1730,2881.8 1732,2882.2 1734,2882.6 1736,2882.9 1738,2883.2 1740,2883.5 1742,2883.7 1744,2884 1746,2884.2 1748,2884.4 1750,2884.5 1752,2884.7 1754,2884.8 1756,2884.9 1758,2885.1 1760,2885.2 1762,2885.3 1764,2885.3 1766,2885.4 1768,2885.5 1770,2885.5 1772,2885.6 1774,2885.6 1776,2885.7 1778,2885.7 1780,2885.7 1782,2885.8 1784,2885.8 1786,2885.8 1788,2885.8 1790,2885.9 1792,2885.9 1794,2885.9 1796,2885.9 1798,2885.9 1800,2885.9 1802,2885.9 1804,2885.9 1806,2886 1808,2886 1810,2886 1812,2886 1814,2886 1816,2886 1818,2886 1820,2886 1822,2886 1824,2886 1826,2886 1828,2886" fill="none" stroke="#000" stroke-width="10" stroke-dasharray="26 20" stroke-linejoin="round"/>
<line x1="196" y1="1975.6" x2="343" y2="1975.6" stroke="#000" stroke-width="11"/>
<text x="354" y="1995" font-size="61">Original peak</text>
<line x1="196" y1="2049.6" x2="343" y2="2049.6" stroke="#f00" stroke-width="11"/>
<text x="354" y="2071.5" font-size="61">Au4f<tspan font-size="36" dy="20">7/2</tspan></text>
<line x1="196" y1="2142.5" x2="343" y2="2142.5" stroke="#00f" stroke-width="11"/>
<text x="354" y="2162.5" font-size="61">Au4f<tspan font-size="36" dy="20">5/2</tspan></text>
<line x1="201" y1="2235" x2="312" y2="2235" stroke="#000" stroke-width="12" stroke-linecap="round" stroke-dasharray="17.5 29"/>
<text x="354" y="2255" font-size="61">Cumulative peak</text>
<line x1="1695.6" y1="1925.5" x2="1695.6" y2="2019" stroke="#000" stroke-width="8.5" stroke-linecap="round"/><text x="1709.5" y="1993" font-size="61" font-weight="bold">25 cps</text>
<line x1="1456.4" y1="2110" x2="1456.4" y2="2534" stroke="#000" stroke-width="10" stroke-linecap="round" stroke-dasharray="0 19"/>
<line x1="1443" y1="2555.5" x2="1469.5" y2="2555.5" stroke="#000" stroke-width="10" stroke-linecap="round"/>
<text x="1405.5" y="2610.5" font-size="51" font-weight="bold" stroke="#000" stroke-width="0.6" letter-spacing="0">Au</text>
<text x="1478" y="2582" font-size="49" stroke="#000" stroke-width="1.2">+</text>
<line x1="1536.6" y1="2345" x2="1536.6" y2="2689" stroke="#000" stroke-width="10" stroke-linecap="round" stroke-dasharray="0 19"/>
<line x1="1523" y1="2706" x2="1549" y2="2706" stroke="#000" stroke-width="10" stroke-linecap="round"/>
<text x="1486.5" y="2762.3" font-size="51" font-weight="bold" stroke="#000" stroke-width="0.6" letter-spacing="0">Au</text>
<text x="1559.6" y="2731" font-size="49" stroke="#000" stroke-width="1.2">0</text>
<line x1="1359.3" y1="2655" x2="1359.3" y2="2778" stroke="#000" stroke-width="10" stroke-linecap="round" stroke-dasharray="0 19"/>
<line x1="1345" y1="2797" x2="1372.5" y2="2797" stroke="#000" stroke-width="10" stroke-linecap="round"/>
<text x="1310.3" y="2852.7" font-size="51" font-weight="bold" stroke="#000" stroke-width="0.6" letter-spacing="0">Au</text>
<text x="1381.7" y="2821" font-size="49" stroke="#000" stroke-width="1.2">3+</text>
<rect x="151.5" y="3285.9" width="1768" height="1295" fill="none" stroke="#000" stroke-width="12.5" stroke-linejoin="round"/>
<line x1="164" y1="4580.9" x2="164" y2="4605.9" stroke="#000" stroke-width="12.5" stroke-linecap="round"/>
<line x1="407.9" y1="4580.9" x2="407.9" y2="4605.9" stroke="#000" stroke-width="12.5" stroke-linecap="round"/>
<line x1="651.8" y1="4580.9" x2="651.8" y2="4605.9" stroke="#000" stroke-width="12.5" stroke-linecap="round"/>
<line x1="895.8" y1="4580.9" x2="895.8" y2="4605.9" stroke="#000" stroke-width="12.5" stroke-linecap="round"/>
<line x1="1139.7" y1="4580.9" x2="1139.7" y2="4605.9" stroke="#000" stroke-width="12.5" stroke-linecap="round"/>
<line x1="1383.6" y1="4580.9" x2="1383.6" y2="4605.9" stroke="#000" stroke-width="12.5" stroke-linecap="round"/>
<line x1="1627.5" y1="4580.9" x2="1627.5" y2="4605.9" stroke="#000" stroke-width="12.5" stroke-linecap="round"/>
<line x1="1871.4" y1="4580.9" x2="1871.4" y2="4605.9" stroke="#000" stroke-width="12.5" stroke-linecap="round"/>
<line x1="286" y1="4580.9" x2="286" y2="4593.9" stroke="#000" stroke-width="12.5" stroke-linecap="round"/>
<line x1="529.9" y1="4580.9" x2="529.9" y2="4593.9" stroke="#000" stroke-width="12.5" stroke-linecap="round"/>
<line x1="773.8" y1="4580.9" x2="773.8" y2="4593.9" stroke="#000" stroke-width="12.5" stroke-linecap="round"/>
<line x1="1017.7" y1="4580.9" x2="1017.7" y2="4593.9" stroke="#000" stroke-width="12.5" stroke-linecap="round"/>
<line x1="1261.6" y1="4580.9" x2="1261.6" y2="4593.9" stroke="#000" stroke-width="12.5" stroke-linecap="round"/>
<line x1="1505.6" y1="4580.9" x2="1505.6" y2="4593.9" stroke="#000" stroke-width="12.5" stroke-linecap="round"/>
<line x1="1749.5" y1="4580.9" x2="1749.5" y2="4593.9" stroke="#000" stroke-width="12.5" stroke-linecap="round"/>
<text x="164" y="4680" text-anchor="middle" font-size="78" font-weight="bold">174</text>
<text x="407.9" y="4680" text-anchor="middle" font-size="78" font-weight="bold">172</text>
<text x="651.8" y="4680" text-anchor="middle" font-size="78" font-weight="bold">170</text>
<text x="895.8" y="4680" text-anchor="middle" font-size="78" font-weight="bold">168</text>
<text x="1139.7" y="4680" text-anchor="middle" font-size="78" font-weight="bold">166</text>
<text x="1383.6" y="4680" text-anchor="middle" font-size="78" font-weight="bold">164</text>
<text x="1627.5" y="4680" text-anchor="middle" font-size="78" font-weight="bold">162</text>
<text x="1871.4" y="4680" text-anchor="middle" font-size="78" font-weight="bold">160</text>
<text x="1036" y="4763" text-anchor="middle" font-size="78" font-weight="bold">Binding energy (eV)</text>
<text transform="translate(101,3929) rotate(-90)" text-anchor="middle" font-size="78" font-weight="bold">Intensity (a.u.)</text>
<text transform="translate(169.3,3477) scale(0.947,1)" font-size="204" font-weight="bold">C</text>
<polyline points="181,4310 190,4355 207.5,4427.5 220,4400 242.5,4065 255,4190 265,4375 279,4517.5 292.5,4210 305,4170 317.5,4172.5 327.5,4310 340,4475 350,4285 365,4265 377.5,4347.5 390,4145 402.5,4250 425,4052.5 437.5,4470 462.5,4282.5 475,4350 499,4275 524,4437.5 547.5,4127.5 560,4422.5 585,4187.5 609,4382.5 634,4250 647.5,4345 657.5,4205 670,4175 682.5,4470 707.5,4070 732.5,4250 744,4480 767.5,4087.5 780,4420 805,4157.5 817.5,4290 830,4025 842.5,4060 854,4292.5 867.5,4250 879,3975 890,4047.5 902.5,3882.5 927.5,4085 939,3797.5 947.5,3855 960,4000 965,4200 976,4245 987.5,4156 1000,4297.5 1012.5,4290 1024,4432.5 1036,4285 1047.5,4385 1060,4385 1072.5,4292.5 1085,4315 1097.5,4175 1112.5,4315 1132.5,4260 1145,4375 1170,4082.5 1182.5,4225 1206,3990 1225,4325 1242.5,3910 1257.5,4220 1270,4097.5 1280,4090 1302.5,3857.5 1315,3865 1327.5,3997.5 1340,3815 1350,3790 1360,3825 1366,4087.5 1385,3690 1395,3665 1412.5,3542.5 1425,3660 1450,3810 1462.5,3650 1475,3442.5 1485,3500 1502.5,3535 1510,3840 1535,3895 1547.5,3845 1560,4000 1572.5,4020 1585,4135 1597.5,3805 1609.3,4453 1654.2,4115.3 1672.2,4133.3 1681.2,4553.9 1695.6,4212.4 1708,4300 1719,4259 1740,4330 1765.7,4101 1780,4399.3 1803.4,4277 1816,4417.3 1852,4266.3 1864.5,4485.6 1878.9,4176.5 1887.9,4356 1904,4392" fill="none" stroke="#000" stroke-width="11" stroke-linejoin="round" stroke-linecap="round"/>

<polyline points="1060,4345 1063,4345 1066,4345 1069,4345 1072,4345 1075,4345 1078,4345 1081,4345 1084,4345 1087,4345 1090,4345 1093,4345 1096,4345 1099,4345 1102,4345 1105,4344.9 1108,4344.9 1111,4344.9 1114,4344.9 1117,4344.9 1120,4344.8 1123,4344.8 1126,4344.7 1129,4344.7 1132,4344.6 1135,4344.5 1138,4344.4 1141,4344.3 1144,4344.2 1147,4344 1150,4343.8 1153,4343.6 1156,4343.3 1159,4343 1162,4342.6 1165,4342.2 1168,4341.7 1171,4341.1 1174,4340.4 1177,4339.6 1180,4338.7 1183,4337.7 1186,4336.5 1189,4335.2 1192,4333.7 1195,4332 1198,4330.1 1201,4328 1204,4325.5 1207,4322.9 1210,4319.9 1213,4316.6 1216,4312.9 1219,4308.8 1222,4304.4 1225,4299.5 1228,4294.2 1231,4288.4 1234,4282.1 1237,4275.4 1240,4268 1243,4260.2 1246,4251.8 1249,4242.8 1252,4233.3 1255,4223.2 1258,4212.5 1261,4201.3 1264,4189.6 1267,4177.4 1270,4164.7 1273,4151.5 1276,4137.9 1279,4124 1282,4109.8 1285,4095.3 1288,4080.6 1291,4065.8 1294,4051 1297,4036.2 1300,4021.6 1303,4007.1 1306,3993 1309,3979.2 1312,3965.9 1315,3953.2 1318,3941.1 1321,3929.8 1324,3919.3 1327,3909.7 1330,3901.1 1333,3893.5 1336,3887 1339,3881.7 1342,3877.5 1345,3874.6 1348,3872.9 1351,3872.5 1354,3873.4 1357,3875.5 1360,3878.8 1363,3883.3 1366,3889.1 1369,3895.9 1372,3903.9 1375,3912.8 1378,3922.7 1381,3933.5 1384,3945.1 1387,3957.4 1390,3970.3 1393,3983.8 1396,3997.7 1399,4011.9 1402,4026.4 1405,4041.1 1408,4055.9 1411,4070.8 1414,4085.5 1417,4100.1 1420,4114.5 1423,4128.7 1426,4142.5 1429,4155.9 1432,4168.9 1435,4181.5 1438,4193.6 1441,4205.1 1444,4216.1 1447,4226.6 1450,4236.5 1453,4245.9 1456,4254.6 1459,4262.9 1462,4270.5 1465,4277.7 1468,4284.3 1471,4290.4 1474,4296 1477,4301.2 1480,4305.9 1483,4310.2 1486,4314.2 1489,4317.7 1492,4320.9 1495,4323.8 1498,4326.4 1501,4328.7 1504,4330.8 1507,4332.6 1510,4334.2 1513,4335.7 1516,4336.9 1519,4338.1 1522,4339 1525,4339.9 1528,4340.6 1531,4341.3 1534,4341.8 1537,4342.3 1540,4342.7 1543,4343.1 1546,4343.4 1549,4343.6 1552,4343.9 1555,4344.1 1558,4344.2 1561,4344.3 1564,4344.5 1567,4344.6 1570,4344.6 1573,4344.7 1576,4344.8 1579,4344.8 1582,4344.8 1585,4344.9 1588,4344.9 1591,4344.9 1594,4344.9 1597,4344.9 1600,4345 1603,4345 1606,4345 1609,4345 1612,4345 1615,4345 1618,4345 1621,4345 1624,4345 1627,4345 1630,4345 1633,4345 1636,4345 1639,4345 1642,4345 1645,4345 1648,4345 1651,4345 1654,4345 1657,4345 1660,4345 1663,4345 1666,4345 1669,4345 1672,4345 1675,4345 1678,4345 1681,4345 1684,4345 1687,4345 1690,4345 1693,4345 1696,4345 1699,4345 1702,4345 1705,4345 1708,4345 1711,4345 1714,4345 1717,4345 1720,4345 1723,4345 1726,4345 1729,4345 1732,4345 1735,4345 1738,4345 1741,4345 1744,4345 1747,4345 1750,4345 1753,4345 1756,4345 1759,4345 1762,4345 1765,4345 1768,4345 1771,4345 1774,4345 1777,4345 1780,4345 1783,4345 1786,4345 1789,4345 1792,4345 1795,4345 1798,4345 1801,4345 1804,4345 1807,4345 1810,4345 1813,4345 1816,4345 1819,4345 1822,4345 1825,4345 1828,4345 1831,4345 1834,4345 1837,4345 1840,4345 1843,4345 1846,4345 1849,4345 1852,4345 1855,4345 1858,4345 1861,4345 1864,4345 1867,4345 1870,4345 1873,4345 1876,4345 1879,4345 1882,4345 1885,4345 1888,4345 1891,4345 1894,4345 1897,4345 1900,4345 1903,4345 1906,4345" fill="none" stroke="#f00" stroke-width="9" stroke-linejoin="round"/>
<polyline points="1060,4345 1063,4345 1066,4345 1069,4345 1072,4345 1075,4345 1078,4345 1081,4345 1084,4345 1087,4345 1090,4345 1093,4345 1096,4345 1099,4345 1102,4345 1105,4345 1108,4345 1111,4345 1114,4345 1117,4345 1120,4345 1123,4345 1126,4345 1129,4345 1132,4345 1135,4345 1138,4345 1141,4345 1144,4345 1147,4345 1150,4345 1153,4345 1156,4345 1159,4345 1162,4345 1165,4345 1168,4345 1171,4345 1174,4345 1177,4345 1180,4345 1183,4345 1186,4345 1189,4345 1192,4345 1195,4345 1198,4345 1201,4345 1204,4345 1207,4345 1210,4345 1213,4345 1216,4345 1219,4345 1222,4345 1225,4345 1228,4345 1231,4345 1234,4345 1237,4345 1240,4345 1243,4345 1246,4345 1249,4345 1252,4345 1255,4345 1258,4345 1261,4345 1264,4345 1267,4345 1270,4345 1273,4345 1276,4345 1279,4345 1282,4345 1285,4345 1288,4345 1291,4345 1294,4345 1297,4345 1300,4345 1303,4345 1306,4345 1309,4345 1312,4345 1315,4345 1318,4345 1321,4345 1324,4345 1327,4345 1330,4345 1333,4345 1336,4345 1339,4345 1342,4345 1345,4345 1348,4345 1351,4345 1354,4344.9 1357,4344.9 1360,4344.9 1363,4344.9 1366,4344.9 1369,4344.9 1372,4344.8 1375,4344.8 1378,4344.7 1381,4344.7 1384,4344.6 1387,4344.6 1390,4344.5 1393,4344.4 1396,4344.3 1399,4344.1 1402,4344 1405,4343.8 1408,4343.6 1411,4343.3 1414,4343 1417,4342.7 1420,4342.3 1423,4341.9 1426,4341.4 1429,4340.8 1432,4340.2 1435,4339.5 1438,4338.7 1441,4337.8 1444,4336.7 1447,4335.6 1450,4334.3 1453,4332.9 1456,4331.4 1459,4329.7 1462,4327.8 1465,4325.7 1468,4323.4 1471,4321 1474,4318.3 1477,4315.3 1480,4312.2 1483,4308.8 1486,4305.1 1489,4301.2 1492,4297 1495,4292.6 1498,4287.8 1501,4282.8 1504,4277.6 1507,4272.1 1510,4266.3 1513,4260.2 1516,4254 1519,4247.5 1522,4240.8 1525,4234 1528,4227 1531,4219.8 1534,4212.6 1537,4205.3 1540,4197.9 1543,4190.6 1546,4183.3 1549,4176 1552,4168.9 1555,4162 1558,4155.2 1561,4148.7 1564,4142.4 1567,4136.5 1570,4131 1573,4125.9 1576,4121.1 1579,4116.9 1582,4113.2 1585,4110 1588,4107.3 1591,4105.2 1594,4103.7 1597,4102.8 1600,4102.5 1603,4102.8 1606,4103.7 1609,4105.2 1612,4107.3 1615,4110 1618,4113.2 1621,4116.9 1624,4121.1 1627,4125.9 1630,4131 1633,4136.5 1636,4142.4 1639,4148.7 1642,4155.2 1645,4162 1648,4168.9 1651,4176 1654,4183.3 1657,4190.6 1660,4197.9 1663,4205.3 1666,4212.6 1669,4219.8 1672,4227 1675,4234 1678,4240.8 1681,4247.5 1684,4254 1687,4260.2 1690,4266.3 1693,4272.1 1696,4277.6 1699,4282.8 1702,4287.8 1705,4292.6 1708,4297 1711,4301.2 1714,4305.1 1717,4308.8 1720,4312.2 1723,4315.3 1726,4318.3 1729,4321 1732,4323.4 1735,4325.7 1738,4327.8 1741,4329.7 1744,4331.4 1747,4332.9 1750,4334.3 1753,4335.6 1756,4336.7 1759,4337.8 1762,4338.7 1765,4339.5 1768,4340.2 1771,4340.8 1774,4341.4 1777,4341.9 1780,4342.3 1783,4342.7 1786,4343 1789,4343.3 1792,4343.6 1795,4343.8 1798,4344 1801,4344.1 1804,4344.3 1807,4344.4 1810,4344.5 1813,4344.6 1816,4344.6 1819,4344.7 1822,4344.7 1825,4344.8 1828,4344.8 1831,4344.9 1834,4344.9 1837,4344.9 1840,4344.9 1843,4344.9 1846,4344.9 1849,4345 1852,4345 1855,4345 1858,4345 1861,4345 1864,4345 1867,4345 1870,4345 1873,4345 1876,4345 1879,4345 1882,4345 1885,4345 1888,4345 1891,4345 1894,4345 1897,4345 1900,4345 1903,4345 1906,4345" fill="none" stroke="#f00" stroke-width="9" stroke-linejoin="round"/>
<polyline points="181,4345 184,4345 187,4345 190,4345 193,4345 196,4345 199,4345 202,4345 205,4345 208,4345 211,4345 214,4345 217,4345 220,4345 223,4345 226,4345 229,4345 232,4345 235,4345 238,4345 241,4345 244,4345 247,4345 250,4345 253,4345 256,4345 259,4345 262,4345 265,4345 268,4345 271,4345 274,4345 277,4345 280,4345 283,4345 286,4345 289,4345 292,4345 295,4345 298,4345 301,4345 304,4345 307,4345 310,4345 313,4345 316,4345 319,4345 322,4345 325,4345 328,4345 331,4345 334,4345 337,4345 340,4345 343,4345 346,4345 349,4345 352,4345 355,4345 358,4345 361,4345 364,4345 367,4345 370,4345 373,4345 376,4345 379,4345 382,4345 385,4345 388,4345 391,4345 394,4345 397,4345 400,4345 403,4345 406,4345 409,4345 412,4345 415,4345 418,4345 421,4345 424,4345 427,4345 430,4345 433,4345 436,4345 439,4345 442,4345 445,4345 448,4345 451,4345 454,4345 457,4345 460,4345 463,4345 466,4345 469,4345 472,4345 475,4345 478,4345 481,4345 484,4345 487,4345 490,4345 493,4345 496,4345 499,4345 502,4345 505,4345 508,4345 511,4345 514,4345 517,4345 520,4345 523,4345 526,4345 529,4345 532,4345 535,4345 538,4345 541,4345 544,4345 547,4345 550,4345 553,4345 556,4345 559,4345 562,4345 565,4345 568,4345 571,4345 574,4345 577,4345 580,4345 583,4345 586,4345 589,4345 592,4345 595,4345 598,4345 601,4345 604,4345 607,4345 610,4345 613,4345 616,4345 619,4345 622,4345 625,4345 628,4345 631,4345 634,4345 637,4345 640,4345 643,4345 646,4345 649,4345 652,4345 655,4345 658,4345 661,4345 664,4345 667,4345 670,4345 673,4345 676,4345 679,4345 682,4345 685,4345 688,4345 691,4345 694,4345 697,4345 700,4345 703,4345 706,4345 709,4345 712,4345 715,4345 718,4345 721,4345 724,4345 727,4345 730,4345 733,4345 736,4345 739,4345 742,4345 745,4345 748,4345 751,4345 754,4345 757,4345 760,4345 763,4345 766,4345 769,4345 772,4345 775,4345 778,4345 781,4345 784,4345 787,4345 790,4345 793,4345 796,4345 799,4345 802,4345 805,4345 808,4345 811,4345 814,4345 817,4345 820,4345 823,4345 826,4345 829,4345 832,4345 835,4345 838,4345 841,4345 844,4345 847,4345 850,4345 853,4345 856,4345 859,4345 862,4345 865,4345 868,4345 871,4345 874,4345 877,4345 880,4345 883,4345 886,4345 889,4345 892,4345 895,4345 898,4345 901,4345 904,4345 907,4345 910,4345 913,4345 916,4345 919,4345 922,4345 925,4345 928,4345 931,4345 934,4345 937,4345 940,4345 943,4345 946,4345 949,4345 952,4345 955,4345 958,4345 961,4345 964,4345 967,4345 970,4345 973,4345 976,4345 979,4345 982,4345 985,4345 988,4345 991,4345 994,4345 997,4345 1000,4344.9 1003,4344.9 1006,4344.9 1009,4344.9 1012,4344.9 1015,4344.8 1018,4344.8 1021,4344.7 1024,4344.7 1027,4344.6 1030,4344.5 1033,4344.4 1036,4344.3 1039,4344.1 1042,4343.9 1045,4343.7 1048,4343.5 1051,4343.2 1054,4342.8 1057,4342.4 1060,4342 1063,4341.4 1066,4340.8 1069,4340.1 1072,4339.2 1075,4338.3 1078,4337.3 1081,4336.1 1084,4334.7 1087,4333.2 1090,4331.5 1093,4329.6 1096,4327.6 1099,4325.3 1102,4322.7 1105,4320 1108,4316.9 1111,4313.7 1114,4310.1 1117,4306.3 1120,4302.2 1123,4297.9 1126,4293.2 1129,4288.3 1132,4283.2 1135,4277.8 1138,4272.2 1141,4266.3 1144,4260.3 1147,4254.1 1150,4247.8 1153,4241.4 1156,4234.9 1159,4228.5 1162,4222 1165,4215.7 1168,4209.4 1171,4203.4 1174,4197.5 1177,4191.9 1180,4186.6 1183,4181.7 1186,4177.2 1189,4173.2 1192,4169.6 1195,4166.6 1198,4164.1 1201,4162.2 1204,4160.9 1207,4160.1 1210,4160 1213,4160.5 1216,4161.7 1219,4163.4 1222,4165.7 1225,4168.6 1228,4171.9 1231,4175.8 1234,4180.2 1237,4185 1240,4190.1 1243,4195.6 1246,4201.4 1249,4207.4 1252,4213.6 1255,4219.9 1258,4226.3 1261,4232.8 1264,4239.3 1267,4245.7 1270,4252 1273,4258.3 1276,4264.3 1279,4270.2 1282,4275.9 1285,4281.4 1288,4286.7 1291,4291.6 1294,4296.4 1297,4300.8 1300,4305 1303,4308.9 1306,4312.5 1309,4315.9 1312,4319 1315,4321.8 1318,4324.4 1321,4326.8 1324,4329 1327,4330.9 1330,4332.7 1333,4334.2 1336,4335.6 1339,4336.9 1342,4338 1345,4338.9 1348,4339.8 1351,4340.6 1354,4341.2 1357,4341.8 1360,4342.3 1363,4342.7 1366,4343.1 1369,4343.4 1372,4343.6 1375,4343.9 1378,4344.1 1381,4344.2 1384,4344.4 1387,4344.5 1390,4344.6 1393,4344.6 1396,4344.7 1399,4344.8 1402,4344.8 1405,4344.8 1408,4344.9 1411,4344.9 1414,4344.9 1417,4344.9 1420,4345 1423,4345 1426,4345 1429,4345 1432,4345 1435,4345 1438,4345 1441,4345 1444,4345 1447,4345 1450,4345 1453,4345 1456,4345 1459,4345 1462,4345 1465,4345 1468,4345 1471,4345 1474,4345 1477,4345 1480,4345 1483,4345 1486,4345 1489,4345 1492,4345 1495,4345 1498,4345 1501,4345 1504,4345 1507,4345 1510,4345 1513,4345 1516,4345 1519,4345 1522,4345 1525,4345 1528,4345 1531,4345 1534,4345 1537,4345 1540,4345 1543,4345 1546,4345 1549,4345 1552,4345 1555,4345 1558,4345 1561,4345 1564,4345 1567,4345 1570,4345 1573,4345 1576,4345 1579,4345 1582,4345 1585,4345 1588,4345 1591,4345 1594,4345 1597,4345 1600,4345 1603,4345 1606,4345 1609,4345 1612,4345 1615,4345 1618,4345 1621,4345 1624,4345 1627,4345 1630,4345 1633,4345 1636,4345 1639,4345 1642,4345 1645,4345 1648,4345 1651,4345 1654,4345 1657,4345 1660,4345 1663,4345 1666,4345 1669,4345 1672,4345 1675,4345 1678,4345 1681,4345 1684,4345 1687,4345 1690,4345 1693,4345 1696,4345 1699,4345 1702,4345 1705,4345 1708,4345 1711,4345 1714,4345 1717,4345 1720,4345 1723,4345 1726,4345 1729,4345 1732,4345 1735,4345 1738,4345 1741,4345 1744,4345 1747,4345 1750,4345 1753,4345 1756,4345 1759,4345 1762,4345 1765,4345 1768,4345 1771,4345 1774,4345 1777,4345 1780,4345 1783,4345 1786,4345 1789,4345 1792,4345 1795,4345 1798,4345 1801,4345 1804,4345 1807,4345 1810,4345 1813,4345 1816,4345 1819,4345 1822,4345 1825,4345 1828,4345 1831,4345 1834,4345 1837,4345 1840,4345 1843,4345 1846,4345 1849,4345 1852,4345 1855,4345 1858,4345 1861,4345 1864,4345 1867,4345 1870,4345 1873,4345 1876,4345 1879,4345 1882,4345 1885,4345 1888,4345 1891,4345 1894,4345 1897,4345 1900,4345 1903,4345 1906,4345" fill="none" stroke="#00f" stroke-width="9" stroke-linejoin="round"/>
<polyline points="181,4345 184,4345 187,4345 190,4345 193,4345 196,4345 199,4345 202,4345 205,4345 208,4345 211,4345 214,4345 217,4345 220,4345 223,4345 226,4345 229,4345 232,4345 235,4345 238,4345 241,4345 244,4345 247,4345 250,4345 253,4345 256,4345 259,4345 262,4345 265,4345 268,4345 271,4345 274,4345 277,4345 280,4345 283,4345 286,4345 289,4345 292,4345 295,4345 298,4345 301,4345 304,4345 307,4345 310,4345 313,4345 316,4345 319,4345 322,4345 325,4345 328,4345 331,4345 334,4345 337,4345 340,4345 343,4345 346,4345 349,4345 352,4345 355,4345 358,4345 361,4345 364,4345 367,4345 370,4345 373,4345 376,4345 379,4345 382,4345 385,4345 388,4345 391,4345 394,4345 397,4345 400,4345 403,4345 406,4345 409,4345 412,4345 415,4345 418,4345 421,4345 424,4345 427,4345 430,4345 433,4345 436,4345 439,4345 442,4345 445,4345 448,4345 451,4345 454,4345 457,4345 460,4345 463,4345 466,4345 469,4345 472,4345 475,4345 478,4345 481,4345 484,4345 487,4345 490,4345 493,4345 496,4345 499,4345 502,4345 505,4345 508,4345 511,4345 514,4345 517,4345 520,4345 523,4345 526,4345 529,4345 532,4345 535,4345 538,4345 541,4345 544,4345 547,4345 550,4345 553,4345 556,4345 559,4345 562,4345 565,4345 568,4345 571,4345 574,4345 577,4345 580,4345 583,4345 586,4345 589,4345 592,4345 595,4345 598,4345 601,4345 604,4345 607,4345 610,4345 613,4345 616,4345 619,4345 622,4345 625,4345 628,4345 631,4345 634,4345 637,4345 640,4345 643,4345 646,4345 649,4345 652,4345 655,4345 658,4345 661,4345 664,4345 667,4345 670,4345 673,4345 676,4345 679,4345 682,4345 685,4345 688,4345 691,4345 694,4345 697,4345 700,4345 703,4345 706,4345 709,4345 712,4345 715,4345 718,4345 721,4345 724,4345 727,4345 730,4345 733,4345 736,4345 739,4345 742,4345 745,4345 748,4345 751,4345 754,4345 757,4345 760,4345 763,4345 766,4345 769,4345 772,4345 775,4345 778,4345 781,4345 784,4345 787,4345 790,4345 793,4345 796,4345 799,4345 802,4345 805,4345 808,4345 811,4345 814,4345 817,4345 820,4345 823,4345 826,4345 829,4345 832,4345 835,4345 838,4345 841,4345 844,4345 847,4345 850,4345 853,4345 856,4345 859,4345 862,4345 865,4345 868,4345 871,4345 874,4345 877,4345 880,4345 883,4345 886,4345 889,4345 892,4345 895,4345 898,4345 901,4345 904,4345 907,4345 910,4345 913,4345 916,4345 919,4345 922,4345 925,4345 928,4345 931,4345 934,4345 937,4345 940,4345 943,4345 946,4345 949,4345 952,4345 955,4345 958,4345 961,4345 964,4345 967,4345 970,4345 973,4345 976,4345 979,4345 982,4345 985,4345 988,4345 991,4345 994,4345 997,4345 1000,4345 1003,4345 1006,4345 1009,4345 1012,4345 1015,4345 1018,4345 1021,4345 1024,4345 1027,4345 1030,4345 1033,4345 1036,4345 1039,4345 1042,4345 1045,4345 1048,4345 1051,4345 1054,4345 1057,4345 1060,4345 1063,4345 1066,4345 1069,4345 1072,4345 1075,4345 1078,4345 1081,4345 1084,4345 1087,4345 1090,4345 1093,4345 1096,4345 1099,4345 1102,4345 1105,4345 1108,4345 1111,4345 1114,4345 1117,4345 1120,4345 1123,4345 1126,4345 1129,4345 1132,4345 1135,4345 1138,4345 1141,4345 1144,4345 1147,4345 1150,4345 1153,4345 1156,4345 1159,4345 1162,4345 1165,4345 1168,4345 1171,4345 1174,4345 1177,4345 1180,4345 1183,4345 1186,4345 1189,4345 1192,4345 1195,4345 1198,4345 1201,4345 1204,4345 1207,4345 1210,4345 1213,4345 1216,4345 1219,4345 1222,4345 1225,4345 1228,4345 1231,4345 1234,4345 1237,4345 1240,4345 1243,4345 1246,4345 1249,4345 1252,4345 1255,4345 1258,4344.9 1261,4344.9 1264,4344.9 1267,4344.9 1270,4344.8 1273,4344.8 1276,4344.7 1279,4344.7 1282,4344.6 1285,4344.5 1288,4344.4 1291,4344.2 1294,4344 1297,4343.8 1300,4343.5 1303,4343.1 1306,4342.7 1309,4342.2 1312,4341.5 1315,4340.8 1318,4339.9 1321,4338.9 1324,4337.7 1327,4336.2 1330,4334.5 1333,4332.5 1336,4330.3 1339,4327.6 1342,4324.6 1345,4321.1 1348,4317.1 1351,4312.6 1354,4307.4 1357,4301.6 1360,4295.1 1363,4287.8 1366,4279.7 1369,4270.7 1372,4260.8 1375,4249.9 1378,4238 1381,4225 1384,4210.9 1387,4195.7 1390,4179.4 1393,4161.9 1396,4143.4 1399,4123.7 1402,4103 1405,4081.3 1408,4058.8 1411,4035.3 1414,4011.2 1417,3986.5 1420,3961.4 1423,3935.9 1426,3910.4 1429,3884.9 1432,3859.7 1435,3834.9 1438,3810.8 1441,3787.5 1444,3765.3 1447,3744.5 1450,3725 1453,3707.3 1456,3691.4 1459,3677.6 1462,3665.8 1465,3656.4 1468,3649.4 1471,3644.7 1474,3642.6 1477,3643.1 1480,3646 1483,3651.4 1486,3659.3 1489,3669.5 1492,3682 1495,3696.5 1498,3713 1501,3731.3 1504,3751.3 1507,3772.6 1510,3795.2 1513,3818.7 1516,3843.1 1519,3868 1522,3893.4 1525,3918.9 1528,3944.4 1531,3969.8 1534,3994.8 1537,4019.3 1540,4043.2 1543,4066.4 1546,4088.7 1549,4110 1552,4130.4 1555,4149.7 1558,4167.9 1561,4185 1564,4200.9 1567,4215.7 1570,4229.5 1573,4242.1 1576,4253.7 1579,4264.2 1582,4273.8 1585,4282.5 1588,4290.4 1591,4297.4 1594,4303.6 1597,4309.2 1600,4314.1 1603,4318.5 1606,4322.3 1609,4325.6 1612,4328.5 1615,4331.1 1618,4333.2 1621,4335.1 1624,4336.7 1627,4338.1 1630,4339.2 1633,4340.2 1636,4341.1 1639,4341.8 1642,4342.3 1645,4342.8 1648,4343.2 1651,4343.6 1654,4343.8 1657,4344.1 1660,4344.3 1663,4344.4 1666,4344.5 1669,4344.6 1672,4344.7 1675,4344.8 1678,4344.8 1681,4344.9 1684,4344.9 1687,4344.9 1690,4344.9 1693,4344.9 1696,4345 1699,4345 1702,4345 1705,4345 1708,4345 1711,4345 1714,4345 1717,4345 1720,4345 1723,4345 1726,4345 1729,4345 1732,4345 1735,4345 1738,4345 1741,4345 1744,4345 1747,4345 1750,4345 1753,4345 1756,4345 1759,4345 1762,4345 1765,4345 1768,4345 1771,4345 1774,4345 1777,4345 1780,4345 1783,4345 1786,4345 1789,4345 1792,4345 1795,4345 1798,4345 1801,4345 1804,4345 1807,4345 1810,4345 1813,4345 1816,4345 1819,4345 1822,4345 1825,4345 1828,4345 1831,4345 1834,4345 1837,4345 1840,4345 1843,4345 1846,4345 1849,4345 1852,4345 1855,4345 1858,4345 1861,4345 1864,4345 1867,4345 1870,4345 1873,4345 1876,4345 1879,4345 1882,4345 1885,4345 1888,4345 1891,4345 1894,4345 1897,4345 1900,4345 1903,4345 1906,4345" fill="none" stroke="#00f" stroke-width="9" stroke-linejoin="round"/>
<polyline points="181,4345 183,4345 185,4345 187,4345 189,4345 191,4345 193,4345 195,4345 197,4345 199,4345 201,4345 203,4345 205,4345 207,4345 209,4345 211,4345 213,4345 215,4345 217,4345 219,4345 221,4345 223,4345 225,4345 227,4345 229,4345 231,4345 233,4345 235,4345 237,4345 239,4345 241,4345 243,4345 245,4345 247,4345 249,4345 251,4345 253,4345 255,4345 257,4345 259,4345 261,4345 263,4345 265,4345 267,4345 269,4345 271,4345 273,4345 275,4345 277,4345 279,4345 281,4345 283,4345 285,4345 287,4345 289,4345 291,4345 293,4345 295,4345 297,4345 299,4345 301,4345 303,4345 305,4345 307,4345 309,4345 311,4345 313,4345 315,4345 317,4345 319,4345 321,4345 323,4345 325,4345 327,4345 329,4345 331,4345 333,4345 335,4345 337,4345 339,4345 341,4345 343,4345 345,4345 347,4345 349,4345 351,4345 353,4345 355,4345 357,4345 359,4345 361,4345 363,4345 365,4345 367,4345 369,4345 371,4345 373,4345 375,4345 377,4345 379,4345 381,4345 383,4345 385,4345 387,4345 389,4345 391,4345 393,4345 395,4345 397,4345 399,4345 401,4345 403,4345 405,4345 407,4345 409,4345 411,4345 413,4345 415,4345 417,4345 419,4345 421,4345 423,4345 425,4345 427,4345 429,4345 431,4345 433,4345 435,4345 437,4345 439,4345 441,4345 443,4345 445,4345 447,4345 449,4345 451,4345 453,4345 455,4345 457,4345 459,4345 461,4345 463,4345 465,4345 467,4345 469,4345 471,4345 473,4345 475,4345 477,4345 479,4345 481,4345 483,4345 485,4345 487,4345 489,4345 491,4345 493,4345 495,4345 497,4345 499,4345 501,4345 503,4345 505,4345 507,4345 509,4345 511,4345 513,4345 515,4345 517,4345 519,4345 521,4345 523,4345 525,4345 527,4345 529,4345 531,4345 533,4345 535,4345 537,4345 539,4345 541,4345 543,4345 545,4345 547,4345 549,4345 551,4345 553,4345 555,4345 557,4345 559,4345 561,4345 563,4345 565,4345 567,4345 569,4345 571,4345 573,4345 575,4345 577,4345 579,4345 581,4345 583,4345 585,4345 587,4345 589,4345 591,4345 593,4345 595,4345 597,4345 599,4345 601,4345 603,4345 605,4345 607,4345 609,4345 611,4345 613,4345 615,4345 617,4345 619,4345 621,4345 623,4345 625,4345 627,4345 629,4345 631,4345 633,4345 635,4345 637,4345 639,4345 641,4345 643,4345 645,4345 647,4345 649,4345 651,4345 653,4345 655,4345 657,4345 659,4345 661,4345 663,4345 665,4345 667,4345 669,4345 671,4345 673,4345 675,4345 677,4345 679,4345 681,4345 683,4345 685,4345 687,4345 689,4345 691,4345 693,4345 695,4345 697,4345 699,4345 701,4345 703,4345 705,4345 707,4345 709,4345 711,4345 713,4345 715,4345 717,4345 719,4345 721,4345 723,4345 725,4345 727,4345 729,4345 731,4345 733,4345 735,4345 737,4345 739,4345 741,4345 743,4345 745,4345 747,4345 749,4345 751,4345 753,4345 755,4345 757,4345 759,4345 761,4345 763,4345 765,4345 767,4345 769,4345 771,4345 773,4345 775,4345 777,4345 779,4345 781,4345 783,4345 785,4345 787,4345 789,4345 791,4345 793,4345 795,4345 797,4345 799,4345 801,4345 803,4345 805,4345 807,4345 809,4345 811,4345 813,4345 815,4345 817,4345 819,4345 821,4345 823,4345 825,4345 827,4345 829,4345 831,4345 833,4345 835,4345 837,4345 839,4345 841,4345 843,4345 845,4345 847,4345 849,4345 851,4345 853,4345 855,4345 857,4345 859,4345 861,4345 863,4345 865,4345 867,4345 869,4345 871,4345 873,4345 875,4345 877,4345 879,4345 881,4345 883,4345 885,4345 887,4345 889,4345 891,4345 893,4345 895,4345 897,4345 899,4345 901,4345 903,4345 905,4345 907,4345 909,4345 911,4345 913,4345 915,4345 917,4345 919,4345 921,4345 923,4345 925,4345 927,4345 929,4345 931,4345 933,4345 935,4345 937,4345 939,4345 941,4345 943,4345 945,4345 947,4345 949,4345 951,4345 953,4345 955,4345 957,4345 959,4345 961,4345 963,4345 965,4345 967,4345 969,4345 971,4345 973,4345 975,4345 977,4345 979,4345 981,4345 983,4345 985,4345 987,4345 989,4345 991,4345 993,4345 995,4345 997,4345 999,4344.9 1001,4344.9 1003,4344.9 1005,4344.9 1007,4344.9 1009,4344.9 1011,4344.9 1013,4344.8 1015,4344.8 1017,4344.8 1019,4344.8 1021,4344.7 1023,4344.7 1025,4344.6 1027,4344.6 1029,4344.5 1031,4344.5 1033,4344.4 1035,4344.3 1037,4344.2 1039,4344.1 1041,4344 1043,4343.9 1045,4343.7 1047,4343.6 1049,4343.4 1051,4343.2 1053,4342.9 1055,4342.7 1057,4342.4 1059,4342.1 1061,4341.8 1063,4341.4 1065,4341 1067,4340.6 1069,4340.1 1071,4339.5 1073,4338.9 1075,4338.3 1077,4337.6 1079,4336.9 1081,4336 1083,4335.2 1085,4334.2 1087,4333.2 1089,4332.1 1091,4330.9 1093,4329.6 1095,4328.2 1097,4326.8 1099,4325.2 1101,4323.6 1103,4321.8 1105,4319.9 1107,4317.9 1109,4315.8 1111,4313.6 1113,4311.2 1115,4308.8 1117,4306.2 1119,4303.5 1121,4300.6 1123,4297.7 1125,4294.6 1127,4291.4 1129,4288 1131,4284.6 1133,4281 1135,4277.3 1137,4273.5 1139,4269.6 1141,4265.6 1143,4261.5 1145,4257.4 1147,4253.1 1149,4248.8 1151,4244.4 1153,4240 1155,4235.5 1157,4231 1159,4226.4 1161,4221.9 1163,4217.4 1165,4212.8 1167,4208.3 1169,4203.8 1171,4199.4 1173,4195.1 1175,4190.7 1177,4186.5 1179,4182.4 1181,4178.4 1183,4174.4 1185,4170.6 1187,4166.9 1189,4163.4 1191,4160 1193,4156.7 1195,4153.6 1197,4150.6 1199,4147.8 1201,4145.1 1203,4142.6 1205,4140.2 1207,4138 1209,4135.9 1211,4133.9 1213,4132.1 1215,4130.4 1217,4128.8 1219,4127.2 1221,4125.8 1223,4124.4 1225,4123.1 1227,4121.8 1229,4120.5 1231,4119.3 1233,4118 1235,4116.7 1237,4115.3 1239,4113.9 1241,4112.4 1243,4110.8 1245,4109.1 1247,4107.2 1249,4105.2 1251,4103 1253,4100.6 1255,4098 1257,4095.3 1259,4092.3 1261,4089.1 1263,4085.6 1265,4081.9 1267,4077.9 1269,4073.7 1271,4069.3 1273,4064.5 1275,4059.6 1277,4054.4 1279,4048.9 1281,4043.2 1283,4037.3 1285,4031.2 1287,4024.9 1289,4018.3 1291,4011.7 1293,4004.8 1295,3997.9 1297,3990.8 1299,3983.6 1301,3976.4 1303,3969.1 1305,3961.8 1307,3954.5 1309,3947.3 1311,3940 1313,3932.9 1315,3925.8 1317,3918.9 1319,3912.1 1321,3905.5 1323,3899.1 1325,3892.9 1327,3886.8 1329,3881.1 1331,3875.5 1333,3870.3 1335,3865.3 1337,3860.6 1339,3856.2 1341,3852 1343,3848.2 1345,3844.6 1347,3841.3 1349,3838.3 1351,3835.6 1353,3833.1 1355,3830.8 1357,3828.8 1359,3827 1361,3825.3 1363,3823.8 1365,3822.4 1367,3821.1 1369,3819.9 1371,3818.7 1373,3817.6 1375,3816.4 1377,3815.2 1379,3813.9 1381,3812.4 1383,3810.9 1385,3809.1 1387,3807.1 1389,3804.9 1391,3802.5 1393,3799.7 1395,3796.6 1397,3793.2 1399,3789.5 1401,3785.4 1403,3780.9 1405,3776.1 1407,3770.9 1409,3765.3 1411,3759.3 1413,3753 1415,3746.3 1417,3739.3 1419,3731.9 1421,3724.3 1423,3716.5 1425,3708.4 1427,3700.1 1429,3691.6 1431,3683.1 1433,3674.5 1435,3665.8 1437,3657.3 1439,3648.8 1441,3640.4 1443,3632.2 1445,3624.3 1447,3616.7 1449,3609.4 1451,3602.5 1453,3596.1 1455,3590.2 1457,3584.9 1459,3580.1 1461,3576 1463,3572.5 1465,3569.8 1467,3567.8 1469,3566.6 1471,3566.1 1473,3566.5 1475,3567.6 1477,3569.6 1479,3572.4 1481,3576 1483,3580.4 1485,3585.7 1487,3591.7 1489,3598.4 1491,3605.9 1493,3614 1495,3622.9 1497,3632.3 1499,3642.3 1501,3652.9 1503,3663.9 1505,3675.4 1507,3687.2 1509,3699.4 1511,3711.9 1513,3724.6 1515,3737.5 1517,3750.5 1519,3763.6 1521,3776.7 1523,3789.8 1525,3802.8 1527,3815.7 1529,3828.4 1531,3840.9 1533,3853.2 1535,3865.2 1537,3876.9 1539,3888.3 1541,3899.4 1543,3910 1545,3920.3 1547,3930.2 1549,3939.7 1551,3948.8 1553,3957.4 1555,3965.7 1557,3973.5 1559,3981 1561,3988 1563,3994.6 1565,4000.9 1567,4006.8 1569,4012.4 1571,4017.7 1573,4022.6 1575,4027.3 1577,4031.8 1579,4035.9 1581,4039.9 1583,4043.7 1585,4047.4 1587,4050.9 1589,4054.2 1591,4057.5 1593,4060.7 1595,4063.8 1597,4067 1599,4070 1601,4073.1 1603,4076.2 1605,4079.4 1607,4082.6 1609,4085.8 1611,4089.1 1613,4092.5 1615,4096 1617,4099.6 1619,4103.2 1621,4107 1623,4110.9 1625,4114.9 1627,4118.9 1629,4123.1 1631,4127.4 1633,4131.8 1635,4136.2 1637,4140.8 1639,4145.4 1641,4150.2 1643,4154.9 1645,4159.8 1647,4164.7 1649,4169.6 1651,4174.6 1653,4179.6 1655,4184.6 1657,4189.6 1659,4194.7 1661,4199.7 1663,4204.7 1665,4209.6 1667,4214.6 1669,4219.4 1671,4224.3 1673,4229 1675,4233.7 1677,4238.4 1679,4242.9 1681,4247.4 1683,4251.7 1685,4256 1687,4260.2 1689,4264.2 1691,4268.2 1693,4272 1695,4275.7 1697,4279.3 1699,4282.8 1701,4286.2 1703,4289.4 1705,4292.5 1707,4295.5 1709,4298.4 1711,4301.2 1713,4303.8 1715,4306.4 1717,4308.8 1719,4311.1 1721,4313.3 1723,4315.3 1725,4317.3 1727,4319.2 1729,4321 1731,4322.6 1733,4324.2 1735,4325.7 1737,4327.1 1739,4328.4 1741,4329.7 1743,4330.8 1745,4331.9 1747,4332.9 1749,4333.9 1751,4334.8 1753,4335.6 1755,4336.4 1757,4337.1 1759,4337.8 1761,4338.4 1763,4338.9 1765,4339.5 1767,4340 1769,4340.4 1771,4340.8 1773,4341.2 1775,4341.6 1777,4341.9 1779,4342.2 1781,4342.4 1783,4342.7 1785,4342.9 1787,4343.1 1789,4343.3 1791,4343.5 1793,4343.6 1795,4343.8 1797,4343.9 1799,4344 1801,4344.1 1803,4344.2 1805,4344.3 1807,4344.4 1809,4344.4 1811,4344.5 1813,4344.6 1815,4344.6 1817,4344.6 1819,4344.7 1821,4344.7 1823,4344.8 1825,4344.8 1827,4344.8 1829,4344.8 1831,4344.9 1833,4344.9 1835,4344.9 1837,4344.9 1839,4344.9 1841,4344.9 1843,4344.9 1845,4344.9 1847,4344.9 1849,4345 1851,4345 1853,4345 1855,4345 1857,4345 1859,4345 1861,4345 1863,4345 1865,4345 1867,4345 1869,4345 1871,4345 1873,4345 1875,4345 1877,4345 1879,4345 1881,4345 1883,4345 1885,4345 1887,4345 1889,4345 1891,4345 1893,4345 1895,4345 1897,4345 1899,4345 1901,4345 1903,4345 1905,4345" fill="none" stroke="#000" stroke-width="10" stroke-dasharray="26 20" stroke-linejoin="round"/>
<line x1="196" y1="3565.6" x2="343" y2="3565.6" stroke="#000" stroke-width="11"/>
<text x="354" y="3585" font-size="61">Original peak</text>
<line x1="196" y1="3639.6" x2="343" y2="3639.6" stroke="#f00" stroke-width="11"/>
<text x="354" y="3661.5" font-size="61">S2p<tspan font-size="36" dy="20">3/2</tspan></text>
<line x1="196" y1="3732.5" x2="343" y2="3732.5" stroke="#00f" stroke-width="11"/>
<text x="354" y="3752.5" font-size="61">S2p<tspan font-size="36" dy="20">1/2</tspan></text>
<line x1="196" y1="3825" x2="318" y2="3825" stroke="#000" stroke-width="11" stroke-dasharray="27.5 19"/>
<text x="354" y="3845" font-size="61">Cumulative peak</text>
<line x1="1694" y1="3312.7" x2="1694" y2="3608" stroke="#000" stroke-width="8.5" stroke-linecap="round"/><text x="1710" y="3477" font-size="61" font-weight="bold">25 cps</text>
<text x="1156.5" y="3583" font-size="55.3" font-weight="bold">Free thiol</text>
<line x1="1336" y1="3601.2" x2="1366" y2="3601.2" stroke="#000" stroke-width="10" stroke-linecap="round"/>
<line x1="1351.2" y1="3621" x2="1351.2" y2="3785" stroke="#000" stroke-width="10" stroke-linecap="round" stroke-dasharray="0 19"/>
<text x="1549.5" y="3738.7" font-size="55.3" font-weight="bold">Bound thiol</text>
<line x1="1612" y1="3758" x2="1640.5" y2="3758" stroke="#000" stroke-width="10" stroke-linecap="round"/>
<line x1="1626.8" y1="3777" x2="1626.8" y2="4100" stroke="#000" stroke-width="10" stroke-linecap="round" stroke-dasharray="0 19"/>
</svg></body></html>
